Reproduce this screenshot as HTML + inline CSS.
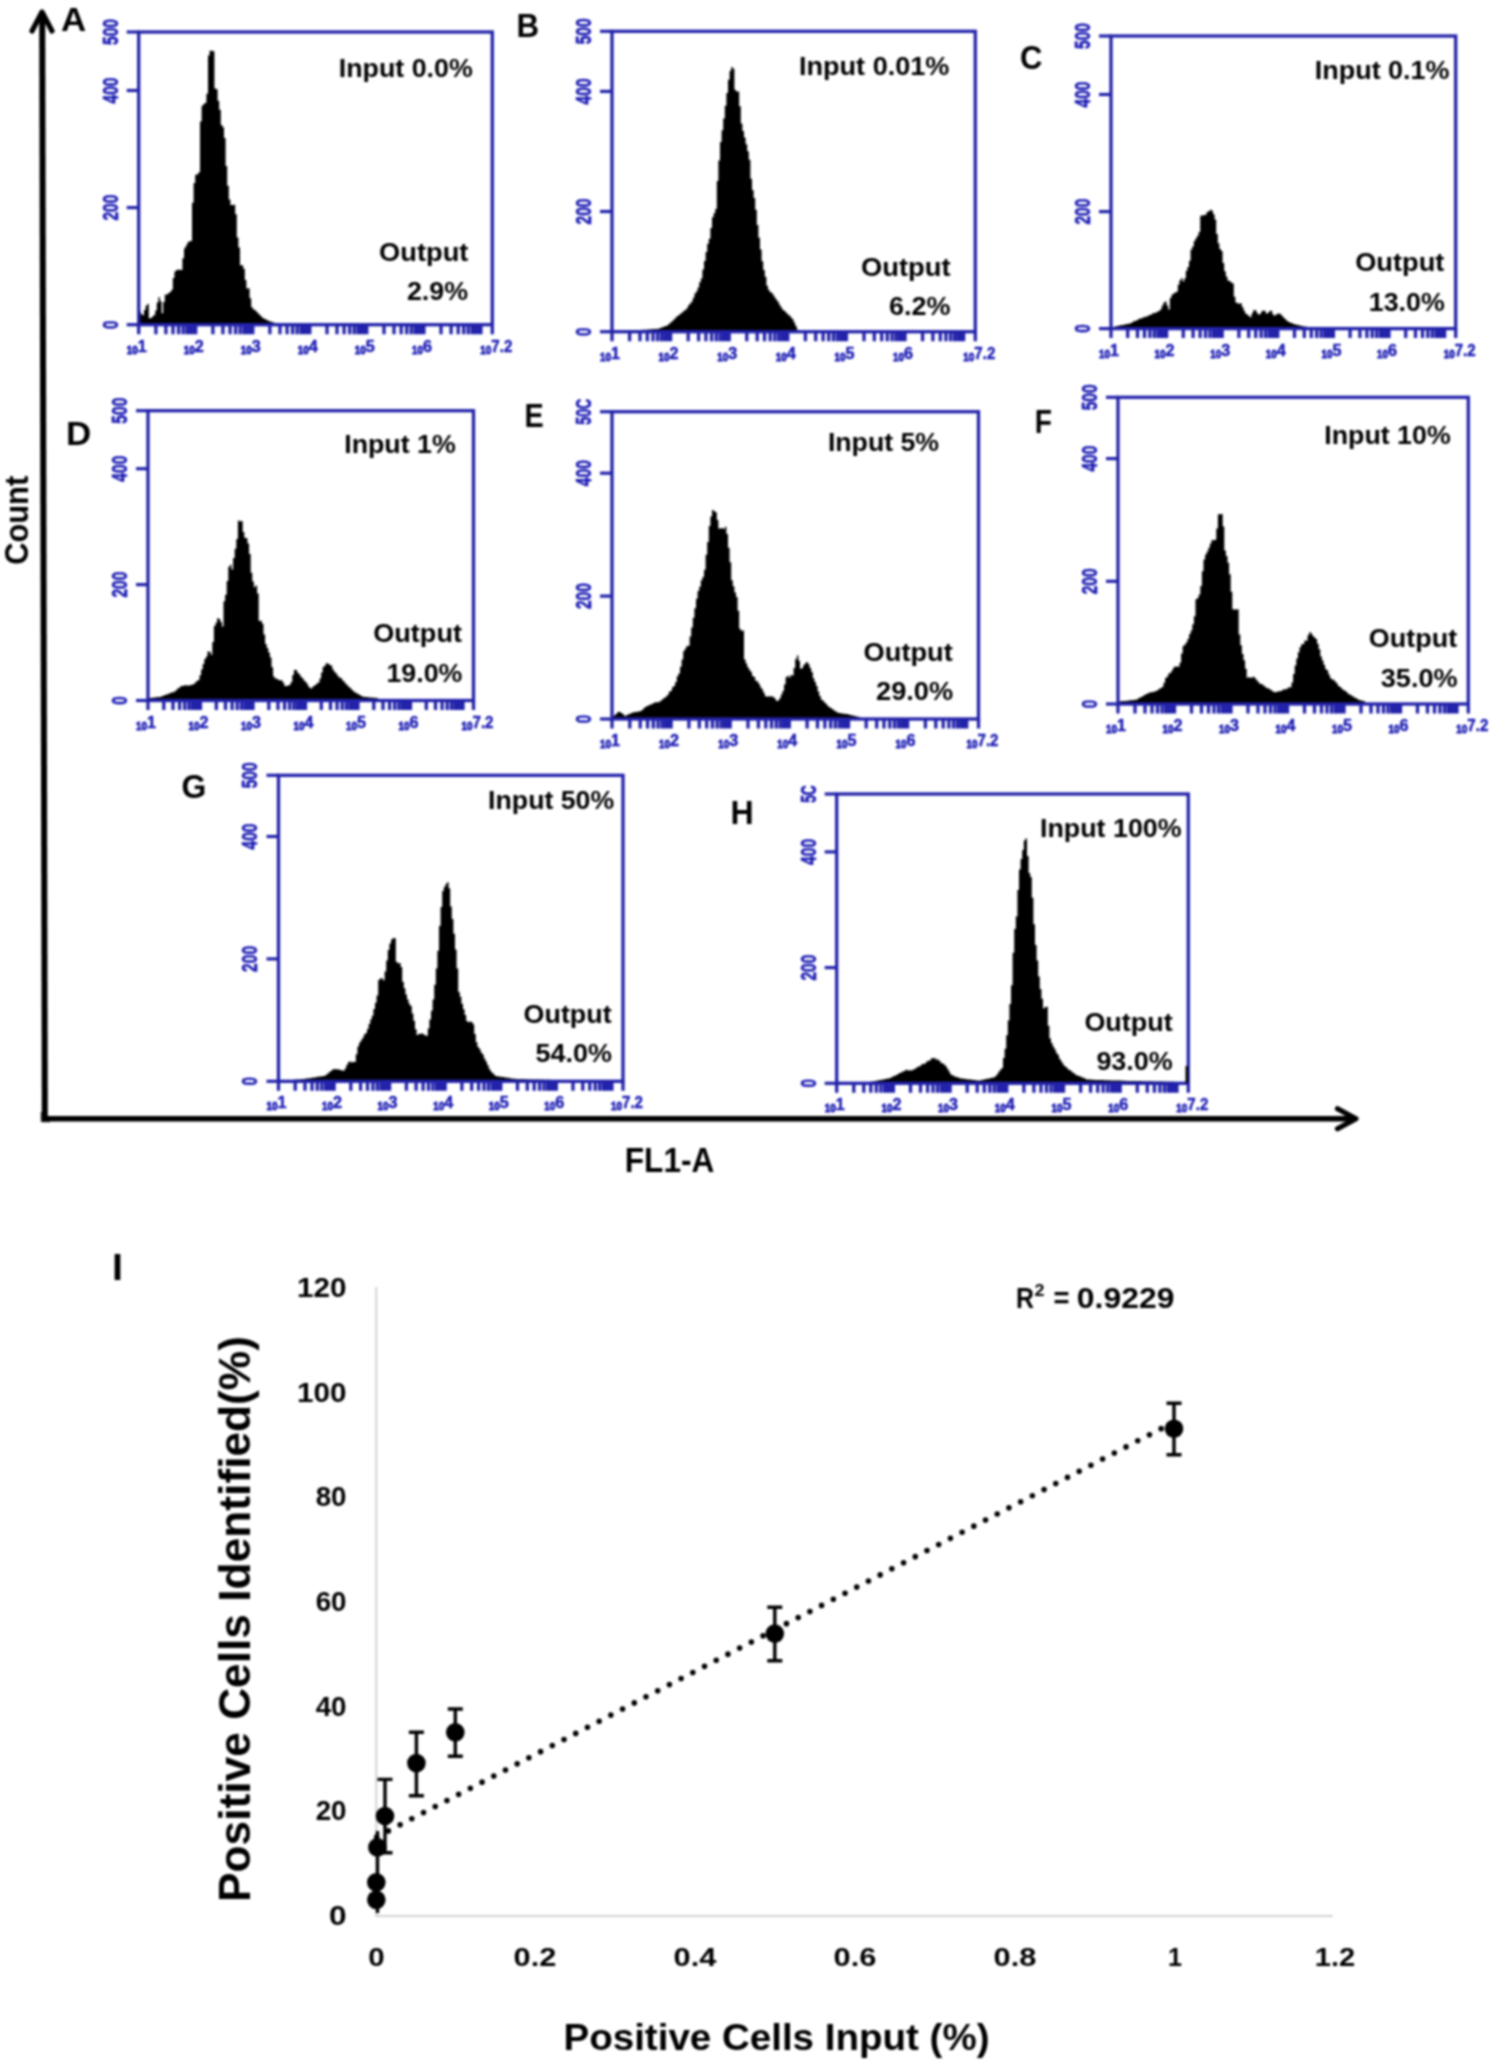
<!DOCTYPE html>
<html><head><meta charset="utf-8"><title>Figure</title>
<style>html,body{margin:0;padding:0;background:#fff;}body{width:1500px;height:2063px;overflow:hidden;font-family:"Liberation Sans",sans-serif;}svg{display:block;}#w{filter:blur(0.8px);width:1500px;height:2063px;}</style>
</head><body>
<div id="w"><svg width="1500" height="2063" viewBox="0 0 1500 2063" font-family="Liberation Sans, sans-serif"><rect width="1500" height="2063" fill="#fff"/>
<path d="M139.2,324.7 L139.2,311.2 L140.8,311.2 L140.8,313.9 L142.4,313.9 L142.4,315.2 L144,315.2 L144,310.1 L145.6,310.1 L145.6,305.8 L147.2,305.8 L147.2,304.1 L148.8,304.1 L148.8,318.3 L150.4,318.3 L150.4,318.1 L152,318.1 L152,316.4 L153.6,316.4 L153.6,315 L155.2,315 L155.2,310.5 L156.8,310.5 L156.8,302.6 L158.4,302.6 L158.4,297.2 L160,297.2 L160,301.3 L161.6,301.3 L161.6,313.2 L163.2,313.2 L163.2,301.9 L164.8,301.9 L164.8,294.5 L166.4,294.5 L166.4,294.4 L168,294.4 L168,293 L169.6,293 L169.6,292 L171.2,292 L171.2,289.7 L172.8,289.7 L172.8,278 L174.4,278 L174.4,271.5 L176,271.5 L176,270.1 L177.6,270.1 L177.6,269.7 L179.2,269.7 L179.2,269.7 L180.8,269.7 L180.8,270.1 L182.4,270.1 L182.4,258.3 L184,258.3 L184,248.2 L185.6,248.2 L185.6,245.4 L187.2,245.4 L187.2,242.6 L188.8,242.6 L188.8,241.3 L190.4,241.3 L190.4,241.1 L192,241.1 L192,202.8 L193.6,202.8 L193.6,183 L195.2,183 L195.2,174.8 L196.8,174.8 L196.8,174.2 L198.4,174.2 L198.4,172.3 L200,172.3 L200,121.6 L201.6,121.6 L201.6,105.7 L203.2,105.7 L203.2,104.1 L204.8,104.1 L204.8,102.8 L206.4,102.8 L206.4,93.7 L208,93.7 L208,55.5 L209.6,55.5 L209.6,50.8 L211.2,50.8 L211.2,50.7 L212.8,50.7 L212.8,51.2 L214.4,51.2 L214.4,88.4 L216,88.4 L216,89.3 L217.6,89.3 L217.6,100.8 L219.2,100.8 L219.2,109.7 L220.8,109.7 L220.8,124.9 L222.4,124.9 L222.4,127.2 L224,127.2 L224,138 L225.6,138 L225.6,165.9 L227.2,165.9 L227.2,185.7 L228.8,185.7 L228.8,199.6 L230.4,199.6 L230.4,204.9 L232,204.9 L232,205.1 L233.6,205.1 L233.6,204.7 L235.2,204.7 L235.2,214.2 L236.8,214.2 L236.8,237.4 L238.4,237.4 L238.4,247.4 L240,247.4 L240,265.2 L241.6,265.2 L241.6,265.2 L243.2,265.2 L243.2,268.7 L244.8,268.7 L244.8,279.9 L246.4,279.9 L246.4,288.5 L248,288.5 L248,288.3 L249.6,288.3 L249.6,298.2 L251.2,298.2 L251.2,307.3 L252.8,307.3 L252.8,309.2 L254.4,309.2 L254.4,310.3 L256,310.3 L256,311.8 L257.6,311.8 L257.6,313.5 L259.2,313.5 L259.2,314.9 L260.8,314.9 L260.8,316.8 L262.4,316.8 L262.4,318.2 L264,318.2 L264,318.8 L265.6,318.8 L265.6,319.7 L267.2,319.7 L267.2,320.4 L268.8,320.4 L268.8,321.2 L270.4,321.2 L270.4,321.7 L272,321.7 L272,322.3 L273.6,322.3 L273.6,322.7 L275.2,322.7 L275.2,323.2 L276.8,323.2 L276.8,323.5 L278.4,323.5 L278.4,323.9 L280,323.9 L280,324.2 L281.6,324.2 L281.6,324.5 L282.6,324.5 L282.6,324.7 Z" fill="#000"/>
<rect x="138.7" y="32" width="353.6" height="292.7" fill="none" stroke="#2222aa" stroke-width="3.3"/>
<line x1="126.7" y1="32" x2="138.7" y2="32" stroke="#2222aa" stroke-width="3.2"/>
<text transform="translate(117.5,32) rotate(-90)" x="0" y="0" font-size="21.5" font-weight="bold" fill="#1c1cb4" stroke="#1c1cb4" stroke-width="0.6" text-anchor="middle" textLength="26" lengthAdjust="spacingAndGlyphs">500</text>
<line x1="126.7" y1="90.5" x2="138.7" y2="90.5" stroke="#2222aa" stroke-width="3.2"/>
<text transform="translate(117.5,90.5) rotate(-90)" x="0" y="0" font-size="21.5" font-weight="bold" fill="#1c1cb4" stroke="#1c1cb4" stroke-width="0.6" text-anchor="middle" textLength="26" lengthAdjust="spacingAndGlyphs">400</text>
<line x1="126.7" y1="207.6" x2="138.7" y2="207.6" stroke="#2222aa" stroke-width="3.2"/>
<text transform="translate(117.5,207.6) rotate(-90)" x="0" y="0" font-size="21.5" font-weight="bold" fill="#1c1cb4" stroke="#1c1cb4" stroke-width="0.6" text-anchor="middle" textLength="26" lengthAdjust="spacingAndGlyphs">200</text>
<line x1="126.7" y1="324.7" x2="138.7" y2="324.7" stroke="#2222aa" stroke-width="3.2"/>
<text transform="translate(117.5,324.7) rotate(-90)" x="0" y="0" font-size="21.5" font-weight="bold" fill="#1c1cb4" stroke="#1c1cb4" stroke-width="0.6" text-anchor="middle" textLength="8.5" lengthAdjust="spacingAndGlyphs">0</text>
<path d="M138.7,324.7V334.2 M155.9,324.7V334.2 M165.9,324.7V334.2 M173,324.7V334.2 M178.6,324.7V334.2 M183.1,324.7V334.2 M186.9,324.7V334.2 M190.2,324.7V334.2 M193.1,324.7V334.2 M195.7,324.7V334.2 M212.9,324.7V334.2 M222.9,324.7V334.2 M230.1,324.7V334.2 M235.6,324.7V334.2 M240.1,324.7V334.2 M243.9,324.7V334.2 M247.2,324.7V334.2 M250.2,324.7V334.2 M252.8,324.7V334.2 M269.9,324.7V334.2 M280,324.7V334.2 M287.1,324.7V334.2 M292.6,324.7V334.2 M297.1,324.7V334.2 M301,324.7V334.2 M304.3,324.7V334.2 M307.2,324.7V334.2 M309.8,324.7V334.2 M327,324.7V334.2 M337,324.7V334.2 M344.1,324.7V334.2 M349.7,324.7V334.2 M354.2,324.7V334.2 M358,324.7V334.2 M361.3,324.7V334.2 M364.2,324.7V334.2 M366.8,324.7V334.2 M384,324.7V334.2 M394,324.7V334.2 M401.2,324.7V334.2 M406.7,324.7V334.2 M411.2,324.7V334.2 M415,324.7V334.2 M418.3,324.7V334.2 M421.3,324.7V334.2 M423.9,324.7V334.2 M441,324.7V334.2 M451.1,324.7V334.2 M458.2,324.7V334.2 M463.7,324.7V334.2 M468.2,324.7V334.2 M472.1,324.7V334.2 M475.4,324.7V334.2 M478.3,324.7V334.2 M480.9,324.7V334.2 M492.3,324.7V334.2" stroke="#2222aa" stroke-width="3.3" fill="none"/>
<text x="126.7" y="353.7" font-size="11" fill="#1c1cb4" font-weight="bold" textLength="11" lengthAdjust="spacingAndGlyphs" stroke="#1c1cb4" stroke-width="0.9">10</text>
<text x="137.7" y="351.7" font-size="17" fill="#1c1cb4" font-weight="bold" textLength="9" lengthAdjust="spacingAndGlyphs" stroke="#1c1cb4" stroke-width="0.5">1</text>
<text x="183.7" y="353.7" font-size="11" fill="#1c1cb4" font-weight="bold" textLength="11" lengthAdjust="spacingAndGlyphs" stroke="#1c1cb4" stroke-width="0.9">10</text>
<text x="194.7" y="351.7" font-size="17" fill="#1c1cb4" font-weight="bold" textLength="9" lengthAdjust="spacingAndGlyphs" stroke="#1c1cb4" stroke-width="0.5">2</text>
<text x="240.8" y="353.7" font-size="11" fill="#1c1cb4" font-weight="bold" textLength="11" lengthAdjust="spacingAndGlyphs" stroke="#1c1cb4" stroke-width="0.9">10</text>
<text x="251.8" y="351.7" font-size="17" fill="#1c1cb4" font-weight="bold" textLength="9" lengthAdjust="spacingAndGlyphs" stroke="#1c1cb4" stroke-width="0.5">3</text>
<text x="297.8" y="353.7" font-size="11" fill="#1c1cb4" font-weight="bold" textLength="11" lengthAdjust="spacingAndGlyphs" stroke="#1c1cb4" stroke-width="0.9">10</text>
<text x="308.8" y="351.7" font-size="17" fill="#1c1cb4" font-weight="bold" textLength="9" lengthAdjust="spacingAndGlyphs" stroke="#1c1cb4" stroke-width="0.5">4</text>
<text x="354.8" y="353.7" font-size="11" fill="#1c1cb4" font-weight="bold" textLength="11" lengthAdjust="spacingAndGlyphs" stroke="#1c1cb4" stroke-width="0.9">10</text>
<text x="365.8" y="351.7" font-size="17" fill="#1c1cb4" font-weight="bold" textLength="9" lengthAdjust="spacingAndGlyphs" stroke="#1c1cb4" stroke-width="0.5">5</text>
<text x="411.9" y="353.7" font-size="11" fill="#1c1cb4" font-weight="bold" textLength="11" lengthAdjust="spacingAndGlyphs" stroke="#1c1cb4" stroke-width="0.9">10</text>
<text x="422.9" y="351.7" font-size="17" fill="#1c1cb4" font-weight="bold" textLength="9" lengthAdjust="spacingAndGlyphs" stroke="#1c1cb4" stroke-width="0.5">6</text>
<text x="480.3" y="353.7" font-size="11" fill="#1c1cb4" font-weight="bold" textLength="11" lengthAdjust="spacingAndGlyphs" stroke="#1c1cb4" stroke-width="0.9">10</text>
<text x="491.3" y="351.7" font-size="17" fill="#1c1cb4" font-weight="bold" textLength="21" lengthAdjust="spacingAndGlyphs" stroke="#1c1cb4" stroke-width="0.5">7.2</text>
<path d="M612.8,331.7 L612.8,330.9 L614.4,330.9 L614.4,330.8 L616,330.8 L616,330.8 L617.6,330.8 L617.6,330.7 L619.2,330.7 L619.2,330.7 L620.8,330.7 L620.8,330.6 L622.4,330.6 L622.4,330.6 L624,330.6 L624,330.6 L625.6,330.6 L625.6,330.5 L627.2,330.5 L627.2,330.4 L628.8,330.4 L628.8,330.4 L630.4,330.4 L630.4,330.3 L632,330.3 L632,330.3 L633.6,330.3 L633.6,330.3 L635.2,330.3 L635.2,330.2 L636.8,330.2 L636.8,330.2 L638.4,330.2 L638.4,330 L640,330 L640,330 L641.6,330 L641.6,329.8 L643.2,329.8 L643.2,329.8 L644.8,329.8 L644.8,329.7 L646.4,329.7 L646.4,329.6 L648,329.6 L648,329.4 L649.6,329.4 L649.6,329.3 L651.2,329.3 L651.2,329.2 L652.8,329.2 L652.8,329 L654.4,329 L654.4,329.1 L656,329.1 L656,328.9 L657.6,328.9 L657.6,328.8 L659.2,328.8 L659.2,328.2 L660.8,328.2 L660.8,327.6 L662.4,327.6 L662.4,327 L664,327 L664,326.3 L665.6,326.3 L665.6,325.9 L667.2,325.9 L667.2,325.1 L668.8,325.1 L668.8,323.6 L670.4,323.6 L670.4,322.2 L672,322.2 L672,320.7 L673.6,320.7 L673.6,319.3 L675.2,319.3 L675.2,317.6 L676.8,317.6 L676.8,316.1 L678.4,316.1 L678.4,314.9 L680,314.9 L680,313.5 L681.6,313.5 L681.6,312.4 L683.2,312.4 L683.2,310.7 L684.8,310.7 L684.8,310.1 L686.4,310.1 L686.4,307.9 L688,307.9 L688,305.3 L689.6,305.3 L689.6,303.5 L691.2,303.5 L691.2,301.5 L692.8,301.5 L692.8,297.7 L694.4,297.7 L694.4,293.4 L696,293.4 L696,291.2 L697.6,291.2 L697.6,287.6 L699.2,287.6 L699.2,282.3 L700.8,282.3 L700.8,278.4 L702.4,278.4 L702.4,269.4 L704,269.4 L704,261 L705.6,261 L705.6,252 L707.2,252 L707.2,243.8 L708.8,243.8 L708.8,238.8 L710.4,238.8 L710.4,227.9 L712,227.9 L712,217.3 L713.6,217.3 L713.6,213.3 L715.2,213.3 L715.2,209.1 L716.8,209.1 L716.8,181 L718.4,181 L718.4,160.5 L720,160.5 L720,141.9 L721.6,141.9 L721.6,130.3 L723.2,130.3 L723.2,118.5 L724.8,118.5 L724.8,105.8 L726.4,105.8 L726.4,93.1 L728,93.1 L728,79.8 L729.6,79.8 L729.6,70.8 L731.2,70.8 L731.2,66.9 L732.8,66.9 L732.8,68.7 L734.4,68.7 L734.4,89.8 L736,89.8 L736,91.5 L737.6,91.5 L737.6,91.5 L739.2,91.5 L739.2,106.2 L740.8,106.2 L740.8,123.5 L742.4,123.5 L742.4,130.9 L744,130.9 L744,137.5 L745.6,137.5 L745.6,144.3 L747.2,144.3 L747.2,151.3 L748.8,151.3 L748.8,159.7 L750.4,159.7 L750.4,178.7 L752,178.7 L752,190 L753.6,190 L753.6,197.9 L755.2,197.9 L755.2,209.8 L756.8,209.8 L756.8,225 L758.4,225 L758.4,237.7 L760,237.7 L760,249.4 L761.6,249.4 L761.6,261.3 L763.2,261.3 L763.2,269.9 L764.8,269.9 L764.8,276.7 L766.4,276.7 L766.4,285.8 L768,285.8 L768,289.8 L769.6,289.8 L769.6,292.1 L771.2,292.1 L771.2,293.1 L772.8,293.1 L772.8,295.2 L774.4,295.2 L774.4,297.7 L776,297.7 L776,300 L777.6,300 L777.6,302.2 L779.2,302.2 L779.2,305.2 L780.8,305.2 L780.8,307.8 L782.4,307.8 L782.4,309.9 L784,309.9 L784,311 L785.6,311 L785.6,312.8 L787.2,312.8 L787.2,314.5 L788.8,314.5 L788.8,315.4 L790.4,315.4 L790.4,317.5 L792,317.5 L792,319.3 L793.6,319.3 L793.6,322.6 L795.2,322.6 L795.2,325.9 L796.8,325.9 L796.8,329.2 L797.6,329.2 L797.6,331.7 Z" fill="#000"/>
<rect x="612" y="31.3" width="363.3" height="300.4" fill="none" stroke="#2222aa" stroke-width="3.3"/>
<line x1="600" y1="31.3" x2="612" y2="31.3" stroke="#2222aa" stroke-width="3.2"/>
<text transform="translate(590.8,31.3) rotate(-90)" x="0" y="0" font-size="21.5" font-weight="bold" fill="#1c1cb4" stroke="#1c1cb4" stroke-width="0.6" text-anchor="middle" textLength="26" lengthAdjust="spacingAndGlyphs">500</text>
<line x1="600" y1="91.4" x2="612" y2="91.4" stroke="#2222aa" stroke-width="3.2"/>
<text transform="translate(590.8,91.4) rotate(-90)" x="0" y="0" font-size="21.5" font-weight="bold" fill="#1c1cb4" stroke="#1c1cb4" stroke-width="0.6" text-anchor="middle" textLength="26" lengthAdjust="spacingAndGlyphs">400</text>
<line x1="600" y1="211.5" x2="612" y2="211.5" stroke="#2222aa" stroke-width="3.2"/>
<text transform="translate(590.8,211.5) rotate(-90)" x="0" y="0" font-size="21.5" font-weight="bold" fill="#1c1cb4" stroke="#1c1cb4" stroke-width="0.6" text-anchor="middle" textLength="26" lengthAdjust="spacingAndGlyphs">200</text>
<line x1="600" y1="331.7" x2="612" y2="331.7" stroke="#2222aa" stroke-width="3.2"/>
<text transform="translate(590.8,331.7) rotate(-90)" x="0" y="0" font-size="21.5" font-weight="bold" fill="#1c1cb4" stroke="#1c1cb4" stroke-width="0.6" text-anchor="middle" textLength="8.5" lengthAdjust="spacingAndGlyphs">0</text>
<path d="M612,331.7V341.2 M629.6,331.7V341.2 M640,331.7V341.2 M647.3,331.7V341.2 M653,331.7V341.2 M657.6,331.7V341.2 M661.5,331.7V341.2 M664.9,331.7V341.2 M667.9,331.7V341.2 M670.6,331.7V341.2 M688.2,331.7V341.2 M698.6,331.7V341.2 M705.9,331.7V341.2 M711.6,331.7V341.2 M716.2,331.7V341.2 M720.1,331.7V341.2 M723.5,331.7V341.2 M726.5,331.7V341.2 M729.2,331.7V341.2 M746.8,331.7V341.2 M757.2,331.7V341.2 M764.5,331.7V341.2 M770.2,331.7V341.2 M774.8,331.7V341.2 M778.7,331.7V341.2 M782.1,331.7V341.2 M785.1,331.7V341.2 M787.8,331.7V341.2 M805.4,331.7V341.2 M815.7,331.7V341.2 M823.1,331.7V341.2 M828.7,331.7V341.2 M833.4,331.7V341.2 M837.3,331.7V341.2 M840.7,331.7V341.2 M843.7,331.7V341.2 M846.4,331.7V341.2 M864,331.7V341.2 M874.3,331.7V341.2 M881.7,331.7V341.2 M887.3,331.7V341.2 M892,331.7V341.2 M895.9,331.7V341.2 M899.3,331.7V341.2 M902.3,331.7V341.2 M905,331.7V341.2 M922.6,331.7V341.2 M932.9,331.7V341.2 M940.3,331.7V341.2 M945.9,331.7V341.2 M950.6,331.7V341.2 M954.5,331.7V341.2 M957.9,331.7V341.2 M960.9,331.7V341.2 M963.6,331.7V341.2 M975.3,331.7V341.2" stroke="#2222aa" stroke-width="3.3" fill="none"/>
<text x="600" y="360.7" font-size="11" fill="#1c1cb4" font-weight="bold" textLength="11" lengthAdjust="spacingAndGlyphs" stroke="#1c1cb4" stroke-width="0.9">10</text>
<text x="611" y="358.7" font-size="17" fill="#1c1cb4" font-weight="bold" textLength="9" lengthAdjust="spacingAndGlyphs" stroke="#1c1cb4" stroke-width="0.5">1</text>
<text x="658.6" y="360.7" font-size="11" fill="#1c1cb4" font-weight="bold" textLength="11" lengthAdjust="spacingAndGlyphs" stroke="#1c1cb4" stroke-width="0.9">10</text>
<text x="669.6" y="358.7" font-size="17" fill="#1c1cb4" font-weight="bold" textLength="9" lengthAdjust="spacingAndGlyphs" stroke="#1c1cb4" stroke-width="0.5">2</text>
<text x="717.2" y="360.7" font-size="11" fill="#1c1cb4" font-weight="bold" textLength="11" lengthAdjust="spacingAndGlyphs" stroke="#1c1cb4" stroke-width="0.9">10</text>
<text x="728.2" y="358.7" font-size="17" fill="#1c1cb4" font-weight="bold" textLength="9" lengthAdjust="spacingAndGlyphs" stroke="#1c1cb4" stroke-width="0.5">3</text>
<text x="775.8" y="360.7" font-size="11" fill="#1c1cb4" font-weight="bold" textLength="11" lengthAdjust="spacingAndGlyphs" stroke="#1c1cb4" stroke-width="0.9">10</text>
<text x="786.8" y="358.7" font-size="17" fill="#1c1cb4" font-weight="bold" textLength="9" lengthAdjust="spacingAndGlyphs" stroke="#1c1cb4" stroke-width="0.5">4</text>
<text x="834.4" y="360.7" font-size="11" fill="#1c1cb4" font-weight="bold" textLength="11" lengthAdjust="spacingAndGlyphs" stroke="#1c1cb4" stroke-width="0.9">10</text>
<text x="845.4" y="358.7" font-size="17" fill="#1c1cb4" font-weight="bold" textLength="9" lengthAdjust="spacingAndGlyphs" stroke="#1c1cb4" stroke-width="0.5">5</text>
<text x="893" y="360.7" font-size="11" fill="#1c1cb4" font-weight="bold" textLength="11" lengthAdjust="spacingAndGlyphs" stroke="#1c1cb4" stroke-width="0.9">10</text>
<text x="904" y="358.7" font-size="17" fill="#1c1cb4" font-weight="bold" textLength="9" lengthAdjust="spacingAndGlyphs" stroke="#1c1cb4" stroke-width="0.5">6</text>
<text x="963.3" y="360.7" font-size="11" fill="#1c1cb4" font-weight="bold" textLength="11" lengthAdjust="spacingAndGlyphs" stroke="#1c1cb4" stroke-width="0.9">10</text>
<text x="974.3" y="358.7" font-size="17" fill="#1c1cb4" font-weight="bold" textLength="21" lengthAdjust="spacingAndGlyphs" stroke="#1c1cb4" stroke-width="0.5">7.2</text>
<path d="M1110.6,328.6 L1110.6,327.5 L1112.2,327.5 L1112.2,327.1 L1113.8,327.1 L1113.8,326.7 L1115.4,326.7 L1115.4,326.3 L1117,326.3 L1117,326 L1118.6,326 L1118.6,325.6 L1120.2,325.6 L1120.2,325.3 L1121.8,325.3 L1121.8,325.1 L1123.4,325.1 L1123.4,324.7 L1125,324.7 L1125,324.3 L1126.6,324.3 L1126.6,324 L1128.2,324 L1128.2,323.7 L1129.8,323.7 L1129.8,323.2 L1131.4,323.2 L1131.4,322.4 L1133,322.4 L1133,321.3 L1134.6,321.3 L1134.6,320.9 L1136.2,320.9 L1136.2,320.2 L1137.8,320.2 L1137.8,319.3 L1139.4,319.3 L1139.4,318.6 L1141,318.6 L1141,318.2 L1142.6,318.2 L1142.6,317.4 L1144.2,317.4 L1144.2,316.8 L1145.8,316.8 L1145.8,316.8 L1147.4,316.8 L1147.4,315.8 L1149,315.8 L1149,314.9 L1150.6,314.9 L1150.6,314.5 L1152.2,314.5 L1152.2,313.2 L1153.8,313.2 L1153.8,313.1 L1155.4,313.1 L1155.4,312.6 L1157,312.6 L1157,311.5 L1158.6,311.5 L1158.6,311.1 L1160.2,311.1 L1160.2,309.1 L1161.8,309.1 L1161.8,305.5 L1163.4,305.5 L1163.4,302.6 L1165,302.6 L1165,301.6 L1166.6,301.6 L1166.6,305.6 L1168.2,305.6 L1168.2,309.6 L1169.8,309.6 L1169.8,298 L1171.4,298 L1171.4,294.8 L1173,294.8 L1173,293.6 L1174.6,293.6 L1174.6,292.4 L1176.2,292.4 L1176.2,291.7 L1177.8,291.7 L1177.8,284.8 L1179.4,284.8 L1179.4,280.3 L1181,280.3 L1181,278.2 L1182.6,278.2 L1182.6,281.5 L1184.2,281.5 L1184.2,278.5 L1185.8,278.5 L1185.8,270.8 L1187.4,270.8 L1187.4,266.9 L1189,266.9 L1189,260.7 L1190.6,260.7 L1190.6,249.6 L1192.2,249.6 L1192.2,246.4 L1193.8,246.4 L1193.8,241.1 L1195.4,241.1 L1195.4,238.3 L1197,238.3 L1197,235.7 L1198.6,235.7 L1198.6,232.1 L1200.2,232.1 L1200.2,215.8 L1201.8,215.8 L1201.8,215.5 L1203.4,215.5 L1203.4,214.9 L1205,214.9 L1205,214.7 L1206.6,214.7 L1206.6,211.9 L1208.2,211.9 L1208.2,211.3 L1209.8,211.3 L1209.8,209.7 L1211.4,209.7 L1211.4,210.7 L1213,210.7 L1213,214.2 L1214.6,214.2 L1214.6,219.6 L1216.2,219.6 L1216.2,234 L1217.8,234 L1217.8,243.3 L1219.4,243.3 L1219.4,249 L1221,249 L1221,251.1 L1222.6,251.1 L1222.6,263.1 L1224.2,263.1 L1224.2,271.3 L1225.8,271.3 L1225.8,276.4 L1227.4,276.4 L1227.4,280.5 L1229,280.5 L1229,281.1 L1230.6,281.1 L1230.6,282.5 L1232.2,282.5 L1232.2,283.6 L1233.8,283.6 L1233.8,296.8 L1235.4,296.8 L1235.4,302.5 L1237,302.5 L1237,303.2 L1238.6,303.2 L1238.6,303.7 L1240.2,303.7 L1240.2,303.2 L1241.8,303.2 L1241.8,306.9 L1243.4,306.9 L1243.4,310.5 L1245,310.5 L1245,313.5 L1246.6,313.5 L1246.6,314.5 L1248.2,314.5 L1248.2,316.1 L1249.8,316.1 L1249.8,317.2 L1251.4,317.2 L1251.4,313.6 L1253,313.6 L1253,310.5 L1254.6,310.5 L1254.6,309.9 L1256.2,309.9 L1256.2,312.4 L1257.8,312.4 L1257.8,314.6 L1259.4,314.6 L1259.4,314.1 L1261,314.1 L1261,311.5 L1262.6,311.5 L1262.6,310.6 L1264.2,310.6 L1264.2,311.1 L1265.8,311.1 L1265.8,313.5 L1267.4,313.5 L1267.4,312.9 L1269,312.9 L1269,310.9 L1270.6,310.9 L1270.6,310.8 L1272.2,310.8 L1272.2,314.3 L1273.8,314.3 L1273.8,315.8 L1275.4,315.8 L1275.4,314.5 L1277,314.5 L1277,313.7 L1278.6,313.7 L1278.6,313.5 L1280.2,313.5 L1280.2,314.5 L1281.8,314.5 L1281.8,316.3 L1283.4,316.3 L1283.4,318 L1285,318 L1285,319.5 L1286.6,319.5 L1286.6,321.1 L1288.2,321.1 L1288.2,322 L1289.8,322 L1289.8,322.8 L1291.4,322.8 L1291.4,323.2 L1293,323.2 L1293,324 L1294.6,324 L1294.6,324.5 L1296.2,324.5 L1296.2,324.8 L1297.8,324.8 L1297.8,325.2 L1299.4,325.2 L1299.4,325.6 L1301,325.6 L1301,325.9 L1302.6,325.9 L1302.6,326.2 L1304.2,326.2 L1304.2,326.6 L1305.8,326.6 L1305.8,326.8 L1307.4,326.8 L1307.4,327 L1309,327 L1309,327.1 L1310.6,327.1 L1310.6,327.3 L1312.2,327.3 L1312.2,327.5 L1313.8,327.5 L1313.8,327.8 L1315,327.8 L1315,328.6 Z" fill="#000"/>
<rect x="1111" y="36" width="344.7" height="292.6" fill="none" stroke="#2222aa" stroke-width="3.3"/>
<line x1="1099" y1="36" x2="1111" y2="36" stroke="#2222aa" stroke-width="3.2"/>
<text transform="translate(1089.8,36) rotate(-90)" x="0" y="0" font-size="21.5" font-weight="bold" fill="#1c1cb4" stroke="#1c1cb4" stroke-width="0.6" text-anchor="middle" textLength="26" lengthAdjust="spacingAndGlyphs">500</text>
<line x1="1099" y1="94.5" x2="1111" y2="94.5" stroke="#2222aa" stroke-width="3.2"/>
<text transform="translate(1089.8,94.5) rotate(-90)" x="0" y="0" font-size="21.5" font-weight="bold" fill="#1c1cb4" stroke="#1c1cb4" stroke-width="0.6" text-anchor="middle" textLength="26" lengthAdjust="spacingAndGlyphs">400</text>
<line x1="1099" y1="211.6" x2="1111" y2="211.6" stroke="#2222aa" stroke-width="3.2"/>
<text transform="translate(1089.8,211.6) rotate(-90)" x="0" y="0" font-size="21.5" font-weight="bold" fill="#1c1cb4" stroke="#1c1cb4" stroke-width="0.6" text-anchor="middle" textLength="26" lengthAdjust="spacingAndGlyphs">200</text>
<line x1="1099" y1="328.6" x2="1111" y2="328.6" stroke="#2222aa" stroke-width="3.2"/>
<text transform="translate(1089.8,328.6) rotate(-90)" x="0" y="0" font-size="21.5" font-weight="bold" fill="#1c1cb4" stroke="#1c1cb4" stroke-width="0.6" text-anchor="middle" textLength="8.5" lengthAdjust="spacingAndGlyphs">0</text>
<path d="M1111,328.6V338.1 M1127.7,328.6V338.1 M1137.5,328.6V338.1 M1144.5,328.6V338.1 M1149.9,328.6V338.1 M1154.3,328.6V338.1 M1158,328.6V338.1 M1161.2,328.6V338.1 M1164.1,328.6V338.1 M1166.6,328.6V338.1 M1183.3,328.6V338.1 M1193.1,328.6V338.1 M1200.1,328.6V338.1 M1205.5,328.6V338.1 M1209.9,328.6V338.1 M1213.6,328.6V338.1 M1216.8,328.6V338.1 M1219.6,328.6V338.1 M1222.2,328.6V338.1 M1238.9,328.6V338.1 M1248.7,328.6V338.1 M1255.7,328.6V338.1 M1261.1,328.6V338.1 M1265.5,328.6V338.1 M1269.2,328.6V338.1 M1272.4,328.6V338.1 M1275.2,328.6V338.1 M1277.8,328.6V338.1 M1294.5,328.6V338.1 M1304.3,328.6V338.1 M1311.3,328.6V338.1 M1316.7,328.6V338.1 M1321.1,328.6V338.1 M1324.8,328.6V338.1 M1328,328.6V338.1 M1330.8,328.6V338.1 M1333.4,328.6V338.1 M1350.1,328.6V338.1 M1359.9,328.6V338.1 M1366.9,328.6V338.1 M1372.2,328.6V338.1 M1376.6,328.6V338.1 M1380.4,328.6V338.1 M1383.6,328.6V338.1 M1386.4,328.6V338.1 M1389,328.6V338.1 M1405.7,328.6V338.1 M1415.5,328.6V338.1 M1422.5,328.6V338.1 M1427.8,328.6V338.1 M1432.2,328.6V338.1 M1436,328.6V338.1 M1439.2,328.6V338.1 M1442,328.6V338.1 M1444.6,328.6V338.1 M1455.7,328.6V338.1" stroke="#2222aa" stroke-width="3.3" fill="none"/>
<text x="1099" y="357.6" font-size="11" fill="#1c1cb4" font-weight="bold" textLength="11" lengthAdjust="spacingAndGlyphs" stroke="#1c1cb4" stroke-width="0.9">10</text>
<text x="1110" y="355.6" font-size="17" fill="#1c1cb4" font-weight="bold" textLength="9" lengthAdjust="spacingAndGlyphs" stroke="#1c1cb4" stroke-width="0.5">1</text>
<text x="1154.6" y="357.6" font-size="11" fill="#1c1cb4" font-weight="bold" textLength="11" lengthAdjust="spacingAndGlyphs" stroke="#1c1cb4" stroke-width="0.9">10</text>
<text x="1165.6" y="355.6" font-size="17" fill="#1c1cb4" font-weight="bold" textLength="9" lengthAdjust="spacingAndGlyphs" stroke="#1c1cb4" stroke-width="0.5">2</text>
<text x="1210.2" y="357.6" font-size="11" fill="#1c1cb4" font-weight="bold" textLength="11" lengthAdjust="spacingAndGlyphs" stroke="#1c1cb4" stroke-width="0.9">10</text>
<text x="1221.2" y="355.6" font-size="17" fill="#1c1cb4" font-weight="bold" textLength="9" lengthAdjust="spacingAndGlyphs" stroke="#1c1cb4" stroke-width="0.5">3</text>
<text x="1265.8" y="357.6" font-size="11" fill="#1c1cb4" font-weight="bold" textLength="11" lengthAdjust="spacingAndGlyphs" stroke="#1c1cb4" stroke-width="0.9">10</text>
<text x="1276.8" y="355.6" font-size="17" fill="#1c1cb4" font-weight="bold" textLength="9" lengthAdjust="spacingAndGlyphs" stroke="#1c1cb4" stroke-width="0.5">4</text>
<text x="1321.4" y="357.6" font-size="11" fill="#1c1cb4" font-weight="bold" textLength="11" lengthAdjust="spacingAndGlyphs" stroke="#1c1cb4" stroke-width="0.9">10</text>
<text x="1332.4" y="355.6" font-size="17" fill="#1c1cb4" font-weight="bold" textLength="9" lengthAdjust="spacingAndGlyphs" stroke="#1c1cb4" stroke-width="0.5">5</text>
<text x="1377" y="357.6" font-size="11" fill="#1c1cb4" font-weight="bold" textLength="11" lengthAdjust="spacingAndGlyphs" stroke="#1c1cb4" stroke-width="0.9">10</text>
<text x="1388" y="355.6" font-size="17" fill="#1c1cb4" font-weight="bold" textLength="9" lengthAdjust="spacingAndGlyphs" stroke="#1c1cb4" stroke-width="0.5">6</text>
<text x="1443.7" y="357.6" font-size="11" fill="#1c1cb4" font-weight="bold" textLength="11" lengthAdjust="spacingAndGlyphs" stroke="#1c1cb4" stroke-width="0.9">10</text>
<text x="1454.7" y="355.6" font-size="17" fill="#1c1cb4" font-weight="bold" textLength="21" lengthAdjust="spacingAndGlyphs" stroke="#1c1cb4" stroke-width="0.5">7.2</text>
<path d="M148.3,700.5 L148.3,698.1 L149.9,698.1 L149.9,697.9 L151.5,697.9 L151.5,697.7 L153.1,697.7 L153.1,697.6 L154.7,697.6 L154.7,697.4 L156.3,697.4 L156.3,697.1 L157.9,697.1 L157.9,696.9 L159.5,696.9 L159.5,696.9 L161.1,696.9 L161.1,696.3 L162.7,696.3 L162.7,695.8 L164.3,695.8 L164.3,695 L165.9,695 L165.9,694.4 L167.5,694.4 L167.5,694 L169.1,694 L169.1,693.3 L170.7,693.3 L170.7,692.5 L172.3,692.5 L172.3,692.3 L173.9,692.3 L173.9,691.4 L175.5,691.4 L175.5,690.2 L177.1,690.2 L177.1,688.5 L178.7,688.5 L178.7,687.8 L180.3,687.8 L180.3,685.9 L181.9,685.9 L181.9,686 L183.5,686 L183.5,685.6 L185.1,685.6 L185.1,685.3 L186.7,685.3 L186.7,685.4 L188.3,685.4 L188.3,685.6 L189.9,685.6 L189.9,684.9 L191.5,684.9 L191.5,684.7 L193.1,684.7 L193.1,684 L194.7,684 L194.7,682.5 L196.3,682.5 L196.3,681.1 L197.9,681.1 L197.9,680 L199.5,680 L199.5,675.3 L201.1,675.3 L201.1,669.6 L202.7,669.6 L202.7,663.9 L204.3,663.9 L204.3,659.1 L205.9,659.1 L205.9,656.4 L207.5,656.4 L207.5,651.4 L209.1,651.4 L209.1,651.7 L210.7,651.7 L210.7,654.7 L212.3,654.7 L212.3,641.9 L213.9,641.9 L213.9,626 L215.5,626 L215.5,622.7 L217.1,622.7 L217.1,618.3 L218.7,618.3 L218.7,618.9 L220.3,618.9 L220.3,622 L221.9,622 L221.9,626.4 L223.5,626.4 L223.5,601.2 L225.1,601.2 L225.1,594.8 L226.7,594.8 L226.7,581.1 L228.3,581.1 L228.3,566.8 L229.9,566.8 L229.9,564.8 L231.5,564.8 L231.5,569.5 L233.1,569.5 L233.1,557.9 L234.7,557.9 L234.7,548.7 L236.3,548.7 L236.3,539.1 L237.9,539.1 L237.9,520.5 L239.5,520.5 L239.5,521.4 L241.1,521.4 L241.1,520.9 L242.7,520.9 L242.7,531.9 L244.3,531.9 L244.3,537.7 L245.9,537.7 L245.9,538.2 L247.5,538.2 L247.5,543.4 L249.1,543.4 L249.1,554 L250.7,554 L250.7,572.7 L252.3,572.7 L252.3,581.5 L253.9,581.5 L253.9,587.2 L255.5,587.2 L255.5,585.6 L257.1,585.6 L257.1,593.6 L258.7,593.6 L258.7,620.9 L260.3,620.9 L260.3,620.7 L261.9,620.7 L261.9,623.8 L263.5,623.8 L263.5,634.4 L265.1,634.4 L265.1,644 L266.7,644 L266.7,647.9 L268.3,647.9 L268.3,652.6 L269.9,652.6 L269.9,657.5 L271.5,657.5 L271.5,667.3 L273.1,667.3 L273.1,676.6 L274.7,676.6 L274.7,678.5 L276.3,678.5 L276.3,678.7 L277.9,678.7 L277.9,679.9 L279.5,679.9 L279.5,680.3 L281.1,680.3 L281.1,680.5 L282.7,680.5 L282.7,682.8 L284.3,682.8 L284.3,686 L285.9,686 L285.9,685.9 L287.5,685.9 L287.5,685.5 L289.1,685.5 L289.1,684.8 L290.7,684.8 L290.7,682.1 L292.3,682.1 L292.3,675 L293.9,675 L293.9,670 L295.5,670 L295.5,670.1 L297.1,670.1 L297.1,672.8 L298.7,672.8 L298.7,674.2 L300.3,674.2 L300.3,676.7 L301.9,676.7 L301.9,678.3 L303.5,678.3 L303.5,680.6 L305.1,680.6 L305.1,682 L306.7,682 L306.7,684.3 L308.3,684.3 L308.3,687.1 L309.9,687.1 L309.9,688.6 L311.5,688.6 L311.5,687.5 L313.1,687.5 L313.1,686.1 L314.7,686.1 L314.7,685 L316.3,685 L316.3,683.6 L317.9,683.6 L317.9,682.4 L319.5,682.4 L319.5,678.5 L321.1,678.5 L321.1,672.5 L322.7,672.5 L322.7,667 L324.3,667 L324.3,665.6 L325.9,665.6 L325.9,662.9 L327.5,662.9 L327.5,663.8 L329.1,663.8 L329.1,664.7 L330.7,664.7 L330.7,665.7 L332.3,665.7 L332.3,669.5 L333.9,669.5 L333.9,671.8 L335.5,671.8 L335.5,673.5 L337.1,673.5 L337.1,675.8 L338.7,675.8 L338.7,677.4 L340.3,677.4 L340.3,678.1 L341.9,678.1 L341.9,680.2 L343.5,680.2 L343.5,681.8 L345.1,681.8 L345.1,683.7 L346.7,683.7 L346.7,685.3 L348.3,685.3 L348.3,686.9 L349.9,686.9 L349.9,688.3 L351.5,688.3 L351.5,690.1 L353.1,690.1 L353.1,691.6 L354.7,691.6 L354.7,692.6 L356.3,692.6 L356.3,693.4 L357.9,693.4 L357.9,694.3 L359.5,694.3 L359.5,695.3 L361.1,695.3 L361.1,696.3 L362.7,696.3 L362.7,696.7 L364.3,696.7 L364.3,697 L365.9,697 L365.9,697.1 L367.5,697.1 L367.5,697.3 L369.1,697.3 L369.1,697.4 L370.7,697.4 L370.7,697.6 L372.3,697.6 L372.3,697.7 L373.9,697.7 L373.9,697.8 L375.5,697.8 L375.5,698.1 L377.1,698.1 L377.1,698.2 L378.3,698.2 L378.3,700.5 Z" fill="#000"/>
<rect x="148" y="410.7" width="325.5" height="289.8" fill="none" stroke="#2222aa" stroke-width="3.3"/>
<line x1="136" y1="410.7" x2="148" y2="410.7" stroke="#2222aa" stroke-width="3.2"/>
<text transform="translate(126.8,410.7) rotate(-90)" x="0" y="0" font-size="21.5" font-weight="bold" fill="#1c1cb4" stroke="#1c1cb4" stroke-width="0.6" text-anchor="middle" textLength="26" lengthAdjust="spacingAndGlyphs">500</text>
<line x1="136" y1="468.7" x2="148" y2="468.7" stroke="#2222aa" stroke-width="3.2"/>
<text transform="translate(126.8,468.7) rotate(-90)" x="0" y="0" font-size="21.5" font-weight="bold" fill="#1c1cb4" stroke="#1c1cb4" stroke-width="0.6" text-anchor="middle" textLength="26" lengthAdjust="spacingAndGlyphs">400</text>
<line x1="136" y1="584.6" x2="148" y2="584.6" stroke="#2222aa" stroke-width="3.2"/>
<text transform="translate(126.8,584.6) rotate(-90)" x="0" y="0" font-size="21.5" font-weight="bold" fill="#1c1cb4" stroke="#1c1cb4" stroke-width="0.6" text-anchor="middle" textLength="26" lengthAdjust="spacingAndGlyphs">200</text>
<line x1="136" y1="700.5" x2="148" y2="700.5" stroke="#2222aa" stroke-width="3.2"/>
<text transform="translate(126.8,700.5) rotate(-90)" x="0" y="0" font-size="21.5" font-weight="bold" fill="#1c1cb4" stroke="#1c1cb4" stroke-width="0.6" text-anchor="middle" textLength="8.5" lengthAdjust="spacingAndGlyphs">0</text>
<path d="M148,700.5V710 M163.8,700.5V710 M173,700.5V710 M179.6,700.5V710 M184.7,700.5V710 M188.9,700.5V710 M192.4,700.5V710 M195.4,700.5V710 M198.1,700.5V710 M200.5,700.5V710 M216.3,700.5V710 M225.5,700.5V710 M232.1,700.5V710 M237.2,700.5V710 M241.4,700.5V710 M244.9,700.5V710 M247.9,700.5V710 M250.6,700.5V710 M253,700.5V710 M268.8,700.5V710 M278,700.5V710 M284.6,700.5V710 M289.7,700.5V710 M293.9,700.5V710 M297.4,700.5V710 M300.4,700.5V710 M303.1,700.5V710 M305.5,700.5V710 M321.3,700.5V710 M330.5,700.5V710 M337.1,700.5V710 M342.2,700.5V710 M346.4,700.5V710 M349.9,700.5V710 M352.9,700.5V710 M355.6,700.5V710 M358,700.5V710 M373.8,700.5V710 M383,700.5V710 M389.6,700.5V710 M394.7,700.5V710 M398.9,700.5V710 M402.4,700.5V710 M405.4,700.5V710 M408.1,700.5V710 M410.5,700.5V710 M426.3,700.5V710 M435.5,700.5V710 M442.1,700.5V710 M447.2,700.5V710 M451.4,700.5V710 M454.9,700.5V710 M457.9,700.5V710 M460.6,700.5V710 M463,700.5V710 M473.5,700.5V710" stroke="#2222aa" stroke-width="3.3" fill="none"/>
<text x="136" y="729.5" font-size="11" fill="#1c1cb4" font-weight="bold" textLength="11" lengthAdjust="spacingAndGlyphs" stroke="#1c1cb4" stroke-width="0.9">10</text>
<text x="147" y="727.5" font-size="17" fill="#1c1cb4" font-weight="bold" textLength="9" lengthAdjust="spacingAndGlyphs" stroke="#1c1cb4" stroke-width="0.5">1</text>
<text x="188.5" y="729.5" font-size="11" fill="#1c1cb4" font-weight="bold" textLength="11" lengthAdjust="spacingAndGlyphs" stroke="#1c1cb4" stroke-width="0.9">10</text>
<text x="199.5" y="727.5" font-size="17" fill="#1c1cb4" font-weight="bold" textLength="9" lengthAdjust="spacingAndGlyphs" stroke="#1c1cb4" stroke-width="0.5">2</text>
<text x="241" y="729.5" font-size="11" fill="#1c1cb4" font-weight="bold" textLength="11" lengthAdjust="spacingAndGlyphs" stroke="#1c1cb4" stroke-width="0.9">10</text>
<text x="252" y="727.5" font-size="17" fill="#1c1cb4" font-weight="bold" textLength="9" lengthAdjust="spacingAndGlyphs" stroke="#1c1cb4" stroke-width="0.5">3</text>
<text x="293.5" y="729.5" font-size="11" fill="#1c1cb4" font-weight="bold" textLength="11" lengthAdjust="spacingAndGlyphs" stroke="#1c1cb4" stroke-width="0.9">10</text>
<text x="304.5" y="727.5" font-size="17" fill="#1c1cb4" font-weight="bold" textLength="9" lengthAdjust="spacingAndGlyphs" stroke="#1c1cb4" stroke-width="0.5">4</text>
<text x="346" y="729.5" font-size="11" fill="#1c1cb4" font-weight="bold" textLength="11" lengthAdjust="spacingAndGlyphs" stroke="#1c1cb4" stroke-width="0.9">10</text>
<text x="357" y="727.5" font-size="17" fill="#1c1cb4" font-weight="bold" textLength="9" lengthAdjust="spacingAndGlyphs" stroke="#1c1cb4" stroke-width="0.5">5</text>
<text x="398.5" y="729.5" font-size="11" fill="#1c1cb4" font-weight="bold" textLength="11" lengthAdjust="spacingAndGlyphs" stroke="#1c1cb4" stroke-width="0.9">10</text>
<text x="409.5" y="727.5" font-size="17" fill="#1c1cb4" font-weight="bold" textLength="9" lengthAdjust="spacingAndGlyphs" stroke="#1c1cb4" stroke-width="0.5">6</text>
<text x="461.5" y="729.5" font-size="11" fill="#1c1cb4" font-weight="bold" textLength="11" lengthAdjust="spacingAndGlyphs" stroke="#1c1cb4" stroke-width="0.9">10</text>
<text x="472.5" y="727.5" font-size="17" fill="#1c1cb4" font-weight="bold" textLength="21" lengthAdjust="spacingAndGlyphs" stroke="#1c1cb4" stroke-width="0.5">7.2</text>
<path d="M612.8,719 L612.8,716.1 L614.4,716.1 L614.4,714.8 L616,714.8 L616,713.4 L617.6,713.4 L617.6,711.8 L619.2,711.8 L619.2,712 L620.8,712 L620.8,713 L622.4,713 L622.4,714.3 L624,714.3 L624,715.7 L625.6,715.7 L625.6,715.4 L627.2,715.4 L627.2,714.5 L628.8,714.5 L628.8,713.9 L630.4,713.9 L630.4,713.2 L632,713.2 L632,712.6 L633.6,712.6 L633.6,712.2 L635.2,712.2 L635.2,711.9 L636.8,711.9 L636.8,711.7 L638.4,711.7 L638.4,711.4 L640,711.4 L640,711 L641.6,711 L641.6,709.9 L643.2,709.9 L643.2,708.3 L644.8,708.3 L644.8,707.1 L646.4,707.1 L646.4,706 L648,706 L648,705.4 L649.6,705.4 L649.6,704.5 L651.2,704.5 L651.2,704.2 L652.8,704.2 L652.8,703.1 L654.4,703.1 L654.4,702.6 L656,702.6 L656,702.3 L657.6,702.3 L657.6,702.2 L659.2,702.2 L659.2,701.5 L660.8,701.5 L660.8,700.3 L662.4,700.3 L662.4,698.7 L664,698.7 L664,697.7 L665.6,697.7 L665.6,696.5 L667.2,696.5 L667.2,694.7 L668.8,694.7 L668.8,691.8 L670.4,691.8 L670.4,690.8 L672,690.8 L672,687.3 L673.6,687.3 L673.6,685.8 L675.2,685.8 L675.2,682.1 L676.8,682.1 L676.8,676.2 L678.4,676.2 L678.4,673.5 L680,673.5 L680,666.7 L681.6,666.7 L681.6,659.5 L683.2,659.5 L683.2,650.9 L684.8,650.9 L684.8,648.4 L686.4,648.4 L686.4,646.1 L688,646.1 L688,645.7 L689.6,645.7 L689.6,636.5 L691.2,636.5 L691.2,627.4 L692.8,627.4 L692.8,617.8 L694.4,617.8 L694.4,608.3 L696,608.3 L696,598.8 L697.6,598.8 L697.6,590.9 L699.2,590.9 L699.2,586.8 L700.8,586.8 L700.8,580.3 L702.4,580.3 L702.4,576.9 L704,576.9 L704,569.8 L705.6,569.8 L705.6,554.8 L707.2,554.8 L707.2,542 L708.8,542 L708.8,526.1 L710.4,526.1 L710.4,516.5 L712,516.5 L712,510 L713.6,510 L713.6,511.2 L715.2,511.2 L715.2,512.2 L716.8,512.2 L716.8,520.1 L718.4,520.1 L718.4,528.4 L720,528.4 L720,528.6 L721.6,528.6 L721.6,528.1 L723.2,528.1 L723.2,529 L724.8,529 L724.8,526.8 L726.4,526.8 L726.4,534.1 L728,534.1 L728,547.8 L729.6,547.8 L729.6,562.2 L731.2,562.2 L731.2,580.3 L732.8,580.3 L732.8,586.3 L734.4,586.3 L734.4,592.6 L736,592.6 L736,597 L737.6,597 L737.6,610.8 L739.2,610.8 L739.2,628.7 L740.8,628.7 L740.8,630.8 L742.4,630.8 L742.4,630.5 L744,630.5 L744,659.6 L745.6,659.6 L745.6,663.6 L747.2,663.6 L747.2,667.2 L748.8,667.2 L748.8,669.8 L750.4,669.8 L750.4,672.1 L752,672.1 L752,676.1 L753.6,676.1 L753.6,677 L755.2,677 L755.2,680.7 L756.8,680.7 L756.8,681.4 L758.4,681.4 L758.4,684 L760,684 L760,687.3 L761.6,687.3 L761.6,689.5 L763.2,689.5 L763.2,692.7 L764.8,692.7 L764.8,696.3 L766.4,696.3 L766.4,696.5 L768,696.5 L768,696.4 L769.6,696.4 L769.6,696.2 L771.2,696.2 L771.2,696.6 L772.8,696.6 L772.8,697.1 L774.4,697.1 L774.4,698.7 L776,698.7 L776,701.1 L777.6,701.1 L777.6,700.6 L779.2,700.6 L779.2,698.2 L780.8,698.2 L780.8,694.6 L782.4,694.6 L782.4,691.1 L784,691.1 L784,684.5 L785.6,684.5 L785.6,677.2 L787.2,677.2 L787.2,675.8 L788.8,675.8 L788.8,677.5 L790.4,677.5 L790.4,675.1 L792,675.1 L792,675.5 L793.6,675.5 L793.6,667.9 L795.2,667.9 L795.2,658.9 L796.8,658.9 L796.8,655.5 L798.4,655.5 L798.4,660.8 L800,660.8 L800,668.7 L801.6,668.7 L801.6,668.1 L803.2,668.1 L803.2,664.9 L804.8,664.9 L804.8,663.3 L806.4,663.3 L806.4,662.1 L808,662.1 L808,664.2 L809.6,664.2 L809.6,668 L811.2,668 L811.2,671.9 L812.8,671.9 L812.8,678.2 L814.4,678.2 L814.4,682.1 L816,682.1 L816,686.1 L817.6,686.1 L817.6,691.6 L819.2,691.6 L819.2,695.9 L820.8,695.9 L820.8,699.4 L822.4,699.4 L822.4,700.8 L824,700.8 L824,702.5 L825.6,702.5 L825.6,704 L827.2,704 L827.2,705.9 L828.8,705.9 L828.8,707.2 L830.4,707.2 L830.4,708.2 L832,708.2 L832,709.2 L833.6,709.2 L833.6,710.4 L835.2,710.4 L835.2,711.5 L836.8,711.5 L836.8,712.4 L838.4,712.4 L838.4,712.9 L840,712.9 L840,713.2 L841.6,713.2 L841.6,713.5 L843.2,713.5 L843.2,713.7 L844.8,713.7 L844.8,713.9 L846.4,713.9 L846.4,714.1 L848,714.1 L848,714.5 L849.6,714.5 L849.6,715 L851.2,715 L851.2,715.2 L852.8,715.2 L852.8,715.7 L854.4,715.7 L854.4,716.1 L856,716.1 L856,716.5 L857.6,716.5 L857.6,716.8 L859.2,716.8 L859.2,717.2 L860.1,717.2 L860.1,719 Z" fill="#000"/>
<rect x="612" y="411.7" width="366.5" height="307.3" fill="none" stroke="#2222aa" stroke-width="3.3"/>
<line x1="600" y1="411.7" x2="612" y2="411.7" stroke="#2222aa" stroke-width="3.2"/>
<text transform="translate(590.8,411.7) rotate(-90)" x="0" y="0" font-size="21.5" font-weight="bold" fill="#1c1cb4" stroke="#1c1cb4" stroke-width="0.6" text-anchor="middle" textLength="26" lengthAdjust="spacingAndGlyphs">50C</text>
<line x1="600" y1="473.2" x2="612" y2="473.2" stroke="#2222aa" stroke-width="3.2"/>
<text transform="translate(590.8,473.2) rotate(-90)" x="0" y="0" font-size="21.5" font-weight="bold" fill="#1c1cb4" stroke="#1c1cb4" stroke-width="0.6" text-anchor="middle" textLength="26" lengthAdjust="spacingAndGlyphs">400</text>
<line x1="600" y1="596.1" x2="612" y2="596.1" stroke="#2222aa" stroke-width="3.2"/>
<text transform="translate(590.8,596.1) rotate(-90)" x="0" y="0" font-size="21.5" font-weight="bold" fill="#1c1cb4" stroke="#1c1cb4" stroke-width="0.6" text-anchor="middle" textLength="26" lengthAdjust="spacingAndGlyphs">200</text>
<line x1="600" y1="719" x2="612" y2="719" stroke="#2222aa" stroke-width="3.2"/>
<text transform="translate(590.8,719) rotate(-90)" x="0" y="0" font-size="21.5" font-weight="bold" fill="#1c1cb4" stroke="#1c1cb4" stroke-width="0.6" text-anchor="middle" textLength="8.5" lengthAdjust="spacingAndGlyphs">0</text>
<path d="M612,719V728.5 M629.8,719V728.5 M640.2,719V728.5 M647.6,719V728.5 M653.3,719V728.5 M658,719V728.5 M662,719V728.5 M665.4,719V728.5 M668.4,719V728.5 M671.1,719V728.5 M688.9,719V728.5 M699.3,719V728.5 M706.7,719V728.5 M712.4,719V728.5 M717.1,719V728.5 M721.1,719V728.5 M724.5,719V728.5 M727.5,719V728.5 M730.2,719V728.5 M748,719V728.5 M758.4,719V728.5 M765.8,719V728.5 M771.5,719V728.5 M776.2,719V728.5 M780.2,719V728.5 M783.6,719V728.5 M786.6,719V728.5 M789.3,719V728.5 M807.1,719V728.5 M817.5,719V728.5 M824.9,719V728.5 M830.7,719V728.5 M835.3,719V728.5 M839.3,719V728.5 M842.7,719V728.5 M845.7,719V728.5 M848.5,719V728.5 M866.2,719V728.5 M876.7,719V728.5 M884,719V728.5 M889.8,719V728.5 M894.5,719V728.5 M898.4,719V728.5 M901.8,719V728.5 M904.9,719V728.5 M907.6,719V728.5 M925.4,719V728.5 M935.8,719V728.5 M943.2,719V728.5 M948.9,719V728.5 M953.6,719V728.5 M957.5,719V728.5 M960.9,719V728.5 M964,719V728.5 M966.7,719V728.5 M978.5,719V728.5" stroke="#2222aa" stroke-width="3.3" fill="none"/>
<text x="600" y="748" font-size="11" fill="#1c1cb4" font-weight="bold" textLength="11" lengthAdjust="spacingAndGlyphs" stroke="#1c1cb4" stroke-width="0.9">10</text>
<text x="611" y="746" font-size="17" fill="#1c1cb4" font-weight="bold" textLength="9" lengthAdjust="spacingAndGlyphs" stroke="#1c1cb4" stroke-width="0.5">1</text>
<text x="659.1" y="748" font-size="11" fill="#1c1cb4" font-weight="bold" textLength="11" lengthAdjust="spacingAndGlyphs" stroke="#1c1cb4" stroke-width="0.9">10</text>
<text x="670.1" y="746" font-size="17" fill="#1c1cb4" font-weight="bold" textLength="9" lengthAdjust="spacingAndGlyphs" stroke="#1c1cb4" stroke-width="0.5">2</text>
<text x="718.2" y="748" font-size="11" fill="#1c1cb4" font-weight="bold" textLength="11" lengthAdjust="spacingAndGlyphs" stroke="#1c1cb4" stroke-width="0.9">10</text>
<text x="729.2" y="746" font-size="17" fill="#1c1cb4" font-weight="bold" textLength="9" lengthAdjust="spacingAndGlyphs" stroke="#1c1cb4" stroke-width="0.5">3</text>
<text x="777.3" y="748" font-size="11" fill="#1c1cb4" font-weight="bold" textLength="11" lengthAdjust="spacingAndGlyphs" stroke="#1c1cb4" stroke-width="0.9">10</text>
<text x="788.3" y="746" font-size="17" fill="#1c1cb4" font-weight="bold" textLength="9" lengthAdjust="spacingAndGlyphs" stroke="#1c1cb4" stroke-width="0.5">4</text>
<text x="836.5" y="748" font-size="11" fill="#1c1cb4" font-weight="bold" textLength="11" lengthAdjust="spacingAndGlyphs" stroke="#1c1cb4" stroke-width="0.9">10</text>
<text x="847.5" y="746" font-size="17" fill="#1c1cb4" font-weight="bold" textLength="9" lengthAdjust="spacingAndGlyphs" stroke="#1c1cb4" stroke-width="0.5">5</text>
<text x="895.6" y="748" font-size="11" fill="#1c1cb4" font-weight="bold" textLength="11" lengthAdjust="spacingAndGlyphs" stroke="#1c1cb4" stroke-width="0.9">10</text>
<text x="906.6" y="746" font-size="17" fill="#1c1cb4" font-weight="bold" textLength="9" lengthAdjust="spacingAndGlyphs" stroke="#1c1cb4" stroke-width="0.5">6</text>
<text x="966.5" y="748" font-size="11" fill="#1c1cb4" font-weight="bold" textLength="11" lengthAdjust="spacingAndGlyphs" stroke="#1c1cb4" stroke-width="0.9">10</text>
<text x="977.5" y="746" font-size="17" fill="#1c1cb4" font-weight="bold" textLength="21" lengthAdjust="spacingAndGlyphs" stroke="#1c1cb4" stroke-width="0.5">7.2</text>
<path d="M1118.7,704 L1118.7,701.4 L1120.3,701.4 L1120.3,701.3 L1121.9,701.3 L1121.9,701.1 L1123.5,701.1 L1123.5,701 L1125.1,701 L1125.1,700.9 L1126.7,700.9 L1126.7,700.7 L1128.3,700.7 L1128.3,700.4 L1129.9,700.4 L1129.9,700.2 L1131.5,700.2 L1131.5,700.2 L1133.1,700.2 L1133.1,700.1 L1134.7,700.1 L1134.7,699.8 L1136.3,699.8 L1136.3,699.4 L1137.9,699.4 L1137.9,698.3 L1139.5,698.3 L1139.5,697.4 L1141.1,697.4 L1141.1,696.7 L1142.7,696.7 L1142.7,695.7 L1144.3,695.7 L1144.3,694.8 L1145.9,694.8 L1145.9,694.1 L1147.5,694.1 L1147.5,693.2 L1149.1,693.2 L1149.1,692.6 L1150.7,692.6 L1150.7,692.2 L1152.3,692.2 L1152.3,692 L1153.9,692 L1153.9,691.6 L1155.5,691.6 L1155.5,691 L1157.1,691 L1157.1,689.9 L1158.7,689.9 L1158.7,688.8 L1160.3,688.8 L1160.3,688 L1161.9,688 L1161.9,686.7 L1163.5,686.7 L1163.5,682.8 L1165.1,682.8 L1165.1,678.1 L1166.7,678.1 L1166.7,676.5 L1168.3,676.5 L1168.3,673.6 L1169.9,673.6 L1169.9,672.8 L1171.5,672.8 L1171.5,670.3 L1173.1,670.3 L1173.1,667.6 L1174.7,667.6 L1174.7,666.6 L1176.3,666.6 L1176.3,666.4 L1177.9,666.4 L1177.9,666.7 L1179.5,666.7 L1179.5,662.7 L1181.1,662.7 L1181.1,653.4 L1182.7,653.4 L1182.7,646.1 L1184.3,646.1 L1184.3,644.6 L1185.9,644.6 L1185.9,642.2 L1187.5,642.2 L1187.5,638.7 L1189.1,638.7 L1189.1,634 L1190.7,634 L1190.7,630.4 L1192.3,630.4 L1192.3,624.3 L1193.9,624.3 L1193.9,616.3 L1195.5,616.3 L1195.5,599.3 L1197.1,599.3 L1197.1,597.9 L1198.7,597.9 L1198.7,594.6 L1200.3,594.6 L1200.3,585.9 L1201.9,585.9 L1201.9,571.3 L1203.5,571.3 L1203.5,559.4 L1205.1,559.4 L1205.1,554.6 L1206.7,554.6 L1206.7,551.5 L1208.3,551.5 L1208.3,547.7 L1209.9,547.7 L1209.9,543.6 L1211.5,543.6 L1211.5,539.9 L1213.1,539.9 L1213.1,540.2 L1214.7,540.2 L1214.7,539.8 L1216.3,539.8 L1216.3,528.6 L1217.9,528.6 L1217.9,514.3 L1219.5,514.3 L1219.5,514.3 L1221.1,514.3 L1221.1,514.1 L1222.7,514.1 L1222.7,526.6 L1224.3,526.6 L1224.3,550.4 L1225.9,550.4 L1225.9,556 L1227.5,556 L1227.5,562.8 L1229.1,562.8 L1229.1,574.2 L1230.7,574.2 L1230.7,591.8 L1232.3,591.8 L1232.3,609.2 L1233.9,609.2 L1233.9,609.6 L1235.5,609.6 L1235.5,609.5 L1237.1,609.5 L1237.1,609.3 L1238.7,609.3 L1238.7,634.5 L1240.3,634.5 L1240.3,645.3 L1241.9,645.3 L1241.9,654.1 L1243.5,654.1 L1243.5,660.3 L1245.1,660.3 L1245.1,668.7 L1246.7,668.7 L1246.7,677.7 L1248.3,677.7 L1248.3,677 L1249.9,677 L1249.9,678 L1251.5,678 L1251.5,677.3 L1253.1,677.3 L1253.1,676.8 L1254.7,676.8 L1254.7,678.5 L1256.3,678.5 L1256.3,680.4 L1257.9,680.4 L1257.9,682.3 L1259.5,682.3 L1259.5,684 L1261.1,684 L1261.1,684.1 L1262.7,684.1 L1262.7,685.5 L1264.3,685.5 L1264.3,686.4 L1265.9,686.4 L1265.9,688.1 L1267.5,688.1 L1267.5,688.3 L1269.1,688.3 L1269.1,689.2 L1270.7,689.2 L1270.7,690.2 L1272.3,690.2 L1272.3,691.4 L1273.9,691.4 L1273.9,692.2 L1275.5,692.2 L1275.5,691.9 L1277.1,691.9 L1277.1,691.5 L1278.7,691.5 L1278.7,691.3 L1280.3,691.3 L1280.3,691 L1281.9,691 L1281.9,690.1 L1283.5,690.1 L1283.5,689.3 L1285.1,689.3 L1285.1,689.3 L1286.7,689.3 L1286.7,688.5 L1288.3,688.5 L1288.3,687.2 L1289.9,687.2 L1289.9,687.2 L1291.5,687.2 L1291.5,682.4 L1293.1,682.4 L1293.1,674.1 L1294.7,674.1 L1294.7,665.6 L1296.3,665.6 L1296.3,658.4 L1297.9,658.4 L1297.9,652.3 L1299.5,652.3 L1299.5,647.2 L1301.1,647.2 L1301.1,644.2 L1302.7,644.2 L1302.7,644.1 L1304.3,644.1 L1304.3,640.5 L1305.9,640.5 L1305.9,640.7 L1307.5,640.7 L1307.5,635.2 L1309.1,635.2 L1309.1,632.2 L1310.7,632.2 L1310.7,633.4 L1312.3,633.4 L1312.3,635.9 L1313.9,635.9 L1313.9,637.5 L1315.5,637.5 L1315.5,639.1 L1317.1,639.1 L1317.1,643.7 L1318.7,643.7 L1318.7,649.3 L1320.3,649.3 L1320.3,656.5 L1321.9,656.5 L1321.9,660.6 L1323.5,660.6 L1323.5,664.7 L1325.1,664.7 L1325.1,669 L1326.7,669 L1326.7,670.4 L1328.3,670.4 L1328.3,674.4 L1329.9,674.4 L1329.9,678 L1331.5,678 L1331.5,679.5 L1333.1,679.5 L1333.1,680.1 L1334.7,680.1 L1334.7,681.7 L1336.3,681.7 L1336.3,683.4 L1337.9,683.4 L1337.9,686.1 L1339.5,686.1 L1339.5,686.9 L1341.1,686.9 L1341.1,688.6 L1342.7,688.6 L1342.7,690 L1344.3,690 L1344.3,690.8 L1345.9,690.8 L1345.9,692 L1347.5,692 L1347.5,693.8 L1349.1,693.8 L1349.1,694.6 L1350.7,694.6 L1350.7,695.4 L1352.3,695.4 L1352.3,696.6 L1353.9,696.6 L1353.9,697.4 L1355.5,697.4 L1355.5,698.3 L1357.1,698.3 L1357.1,699.2 L1358.7,699.2 L1358.7,700 L1360.3,700 L1360.3,700.5 L1361.9,700.5 L1361.9,700.8 L1363.5,700.8 L1363.5,701.3 L1365.1,701.3 L1365.1,704 Z" fill="#000"/>
<rect x="1118" y="397.3" width="350.3" height="306.7" fill="none" stroke="#2222aa" stroke-width="3.3"/>
<line x1="1106" y1="397.3" x2="1118" y2="397.3" stroke="#2222aa" stroke-width="3.2"/>
<text transform="translate(1096.8,397.3) rotate(-90)" x="0" y="0" font-size="21.5" font-weight="bold" fill="#1c1cb4" stroke="#1c1cb4" stroke-width="0.6" text-anchor="middle" textLength="26" lengthAdjust="spacingAndGlyphs">500</text>
<line x1="1106" y1="458.6" x2="1118" y2="458.6" stroke="#2222aa" stroke-width="3.2"/>
<text transform="translate(1096.8,458.6) rotate(-90)" x="0" y="0" font-size="21.5" font-weight="bold" fill="#1c1cb4" stroke="#1c1cb4" stroke-width="0.6" text-anchor="middle" textLength="26" lengthAdjust="spacingAndGlyphs">400</text>
<line x1="1106" y1="581.3" x2="1118" y2="581.3" stroke="#2222aa" stroke-width="3.2"/>
<text transform="translate(1096.8,581.3) rotate(-90)" x="0" y="0" font-size="21.5" font-weight="bold" fill="#1c1cb4" stroke="#1c1cb4" stroke-width="0.6" text-anchor="middle" textLength="26" lengthAdjust="spacingAndGlyphs">200</text>
<line x1="1106" y1="704" x2="1118" y2="704" stroke="#2222aa" stroke-width="3.2"/>
<text transform="translate(1096.8,704) rotate(-90)" x="0" y="0" font-size="21.5" font-weight="bold" fill="#1c1cb4" stroke="#1c1cb4" stroke-width="0.6" text-anchor="middle" textLength="8.5" lengthAdjust="spacingAndGlyphs">0</text>
<path d="M1118,704V713.5 M1135,704V713.5 M1145,704V713.5 M1152,704V713.5 M1157.5,704V713.5 M1162,704V713.5 M1165.7,704V713.5 M1169,704V713.5 M1171.9,704V713.5 M1174.5,704V713.5 M1191.5,704V713.5 M1201.5,704V713.5 M1208.5,704V713.5 M1214,704V713.5 M1218.5,704V713.5 M1222.2,704V713.5 M1225.5,704V713.5 M1228.4,704V713.5 M1231,704V713.5 M1248,704V713.5 M1258,704V713.5 M1265,704V713.5 M1270.5,704V713.5 M1275,704V713.5 M1278.7,704V713.5 M1282,704V713.5 M1284.9,704V713.5 M1287.5,704V713.5 M1304.5,704V713.5 M1314.5,704V713.5 M1321.5,704V713.5 M1327,704V713.5 M1331.5,704V713.5 M1335.2,704V713.5 M1338.5,704V713.5 M1341.4,704V713.5 M1344,704V713.5 M1361,704V713.5 M1371,704V713.5 M1378,704V713.5 M1383.5,704V713.5 M1388,704V713.5 M1391.7,704V713.5 M1395,704V713.5 M1397.9,704V713.5 M1400.5,704V713.5 M1417.5,704V713.5 M1427.5,704V713.5 M1434.5,704V713.5 M1440,704V713.5 M1444.5,704V713.5 M1448.2,704V713.5 M1451.5,704V713.5 M1454.4,704V713.5 M1457,704V713.5 M1468.3,704V713.5" stroke="#2222aa" stroke-width="3.3" fill="none"/>
<text x="1106" y="733" font-size="11" fill="#1c1cb4" font-weight="bold" textLength="11" lengthAdjust="spacingAndGlyphs" stroke="#1c1cb4" stroke-width="0.9">10</text>
<text x="1117" y="731" font-size="17" fill="#1c1cb4" font-weight="bold" textLength="9" lengthAdjust="spacingAndGlyphs" stroke="#1c1cb4" stroke-width="0.5">1</text>
<text x="1162.5" y="733" font-size="11" fill="#1c1cb4" font-weight="bold" textLength="11" lengthAdjust="spacingAndGlyphs" stroke="#1c1cb4" stroke-width="0.9">10</text>
<text x="1173.5" y="731" font-size="17" fill="#1c1cb4" font-weight="bold" textLength="9" lengthAdjust="spacingAndGlyphs" stroke="#1c1cb4" stroke-width="0.5">2</text>
<text x="1219" y="733" font-size="11" fill="#1c1cb4" font-weight="bold" textLength="11" lengthAdjust="spacingAndGlyphs" stroke="#1c1cb4" stroke-width="0.9">10</text>
<text x="1230" y="731" font-size="17" fill="#1c1cb4" font-weight="bold" textLength="9" lengthAdjust="spacingAndGlyphs" stroke="#1c1cb4" stroke-width="0.5">3</text>
<text x="1275.5" y="733" font-size="11" fill="#1c1cb4" font-weight="bold" textLength="11" lengthAdjust="spacingAndGlyphs" stroke="#1c1cb4" stroke-width="0.9">10</text>
<text x="1286.5" y="731" font-size="17" fill="#1c1cb4" font-weight="bold" textLength="9" lengthAdjust="spacingAndGlyphs" stroke="#1c1cb4" stroke-width="0.5">4</text>
<text x="1332" y="733" font-size="11" fill="#1c1cb4" font-weight="bold" textLength="11" lengthAdjust="spacingAndGlyphs" stroke="#1c1cb4" stroke-width="0.9">10</text>
<text x="1343" y="731" font-size="17" fill="#1c1cb4" font-weight="bold" textLength="9" lengthAdjust="spacingAndGlyphs" stroke="#1c1cb4" stroke-width="0.5">5</text>
<text x="1388.5" y="733" font-size="11" fill="#1c1cb4" font-weight="bold" textLength="11" lengthAdjust="spacingAndGlyphs" stroke="#1c1cb4" stroke-width="0.9">10</text>
<text x="1399.5" y="731" font-size="17" fill="#1c1cb4" font-weight="bold" textLength="9" lengthAdjust="spacingAndGlyphs" stroke="#1c1cb4" stroke-width="0.5">6</text>
<text x="1456.3" y="733" font-size="11" fill="#1c1cb4" font-weight="bold" textLength="11" lengthAdjust="spacingAndGlyphs" stroke="#1c1cb4" stroke-width="0.9">10</text>
<text x="1467.3" y="731" font-size="17" fill="#1c1cb4" font-weight="bold" textLength="21" lengthAdjust="spacingAndGlyphs" stroke="#1c1cb4" stroke-width="0.5">7.2</text>
<path d="M279,1081.3 L279,1080.9 L280.6,1080.9 L280.6,1080.7 L282.2,1080.7 L282.2,1080.6 L283.8,1080.6 L283.8,1080.5 L285.4,1080.5 L285.4,1080.4 L287,1080.4 L287,1080.3 L288.6,1080.3 L288.6,1080.1 L290.2,1080.1 L290.2,1080 L291.8,1080 L291.8,1079.9 L293.4,1079.9 L293.4,1079.8 L295,1079.8 L295,1079.6 L296.6,1079.6 L296.6,1079.6 L298.2,1079.6 L298.2,1079.4 L299.8,1079.4 L299.8,1079.3 L301.4,1079.3 L301.4,1079.2 L303,1079.2 L303,1079 L304.6,1079 L304.6,1078.8 L306.2,1078.8 L306.2,1078.6 L307.8,1078.6 L307.8,1078.3 L309.4,1078.3 L309.4,1078.2 L311,1078.2 L311,1077.8 L312.6,1077.8 L312.6,1077.6 L314.2,1077.6 L314.2,1077.4 L315.8,1077.4 L315.8,1077.1 L317.4,1077.1 L317.4,1076.8 L319,1076.8 L319,1076.5 L320.6,1076.5 L320.6,1076.4 L322.2,1076.4 L322.2,1076.1 L323.8,1076.1 L323.8,1075.9 L325.4,1075.9 L325.4,1074.8 L327,1074.8 L327,1073.7 L328.6,1073.7 L328.6,1072.2 L330.2,1072.2 L330.2,1071 L331.8,1071 L331.8,1069.8 L333.4,1069.8 L333.4,1069 L335,1069 L335,1069.2 L336.6,1069.2 L336.6,1069.3 L338.2,1069.3 L338.2,1069.5 L339.8,1069.5 L339.8,1069.9 L341.4,1069.9 L341.4,1070.4 L343,1070.4 L343,1070.7 L344.6,1070.7 L344.6,1068.5 L346.2,1068.5 L346.2,1065 L347.8,1065 L347.8,1062.2 L349.4,1062.2 L349.4,1061.6 L351,1061.6 L351,1062.4 L352.6,1062.4 L352.6,1061.8 L354.2,1061.8 L354.2,1062.1 L355.8,1062.1 L355.8,1054.3 L357.4,1054.3 L357.4,1046.5 L359,1046.5 L359,1042.8 L360.6,1042.8 L360.6,1040.3 L362.2,1040.3 L362.2,1037.7 L363.8,1037.7 L363.8,1034.4 L365.4,1034.4 L365.4,1032.9 L367,1032.9 L367,1029 L368.6,1029 L368.6,1024 L370.2,1024 L370.2,1019.4 L371.8,1019.4 L371.8,1015.8 L373.4,1015.8 L373.4,1009 L375,1009 L375,1002.8 L376.6,1002.8 L376.6,995.5 L378.2,995.5 L378.2,980 L379.8,980 L379.8,978.2 L381.4,978.2 L381.4,978.5 L383,978.5 L383,980.3 L384.6,980.3 L384.6,971.6 L386.2,971.6 L386.2,960.4 L387.8,960.4 L387.8,949.9 L389.4,949.9 L389.4,943.4 L391,943.4 L391,939.6 L392.6,939.6 L392.6,938.1 L394.2,938.1 L394.2,938.3 L395.8,938.3 L395.8,961.7 L397.4,961.7 L397.4,963.2 L399,963.2 L399,963 L400.6,963 L400.6,967.1 L402.2,967.1 L402.2,981.8 L403.8,981.8 L403.8,988.3 L405.4,988.3 L405.4,994.4 L407,994.4 L407,999.5 L408.6,999.5 L408.6,1003.7 L410.2,1003.7 L410.2,1005.9 L411.8,1005.9 L411.8,1013.4 L413.4,1013.4 L413.4,1020.7 L415,1020.7 L415,1029.3 L416.6,1029.3 L416.6,1035.1 L418.2,1035.1 L418.2,1034.1 L419.8,1034.1 L419.8,1033.7 L421.4,1033.7 L421.4,1033.4 L423,1033.4 L423,1034.2 L424.6,1034.2 L424.6,1035.6 L426.2,1035.6 L426.2,1035.8 L427.8,1035.8 L427.8,1028.4 L429.4,1028.4 L429.4,1019.6 L431,1019.6 L431,1010.8 L432.6,1010.8 L432.6,999.4 L434.2,999.4 L434.2,984.7 L435.8,984.7 L435.8,968.5 L437.4,968.5 L437.4,950.7 L439,950.7 L439,926.1 L440.6,926.1 L440.6,907 L442.2,907 L442.2,891 L443.8,891 L443.8,886.9 L445.4,886.9 L445.4,884.1 L447,884.1 L447,882.3 L448.6,882.3 L448.6,888.2 L450.2,888.2 L450.2,906.6 L451.8,906.6 L451.8,919.1 L453.4,919.1 L453.4,933.8 L455,933.8 L455,949.5 L456.6,949.5 L456.6,968.5 L458.2,968.5 L458.2,991.9 L459.8,991.9 L459.8,996.7 L461.4,996.7 L461.4,1003.8 L463,1003.8 L463,1009.2 L464.6,1009.2 L464.6,1014.9 L466.2,1014.9 L466.2,1021 L467.8,1021 L467.8,1022.2 L469.4,1022.2 L469.4,1021.6 L471,1021.6 L471,1022.1 L472.6,1022.1 L472.6,1024.3 L474.2,1024.3 L474.2,1034.1 L475.8,1034.1 L475.8,1042.3 L477.4,1042.3 L477.4,1047 L479,1047 L479,1048.9 L480.6,1048.9 L480.6,1052.4 L482.2,1052.4 L482.2,1054.4 L483.8,1054.4 L483.8,1058.4 L485.4,1058.4 L485.4,1061.6 L487,1061.6 L487,1065 L488.6,1065 L488.6,1068.7 L490.2,1068.7 L490.2,1071.2 L491.8,1071.2 L491.8,1072.9 L493.4,1072.9 L493.4,1074.6 L495,1074.6 L495,1075.9 L496.6,1075.9 L496.6,1076.3 L498.2,1076.3 L498.2,1076.4 L499.8,1076.4 L499.8,1076.7 L501.4,1076.7 L501.4,1076.9 L503,1076.9 L503,1077.1 L504.6,1077.1 L504.6,1077.4 L506.2,1077.4 L506.2,1077.8 L507.8,1077.8 L507.8,1077.8 L509.4,1077.8 L509.4,1078.2 L511,1078.2 L511,1078.5 L512.6,1078.5 L512.6,1078.7 L514.2,1078.7 L514.2,1078.8 L515.8,1078.8 L515.8,1079 L517.4,1079 L517.4,1079.1 L519,1079.1 L519,1079.2 L520.6,1079.2 L520.6,1079.1 L522.2,1079.1 L522.2,1079.1 L523.8,1079.1 L523.8,1079.3 L525.4,1079.3 L525.4,1079.2 L527,1079.2 L527,1079.3 L528.6,1079.3 L528.6,1079.4 L530.2,1079.4 L530.2,1079.4 L531.8,1079.4 L531.8,1079.4 L533.4,1079.4 L533.4,1079.5 L535,1079.5 L535,1079.5 L536.6,1079.5 L536.6,1079.5 L538.2,1079.5 L538.2,1079.6 L539.8,1079.6 L539.8,1079.7 L541.4,1079.7 L541.4,1079.6 L543,1079.6 L543,1079.7 L544.6,1079.7 L544.6,1079.7 L546.2,1079.7 L546.2,1079.8 L547.8,1079.8 L547.8,1079.8 L549.4,1079.8 L549.4,1079.8 L551,1079.8 L551,1079.9 L552.6,1079.9 L552.6,1080 L554.2,1080 L554.2,1080 L555,1080 L555,1081.3 Z" fill="#000"/>
<rect x="278.5" y="775.3" width="344.5" height="306" fill="none" stroke="#2222aa" stroke-width="3.3"/>
<line x1="266.5" y1="775.3" x2="278.5" y2="775.3" stroke="#2222aa" stroke-width="3.2"/>
<text transform="translate(257.3,775.3) rotate(-90)" x="0" y="0" font-size="21.5" font-weight="bold" fill="#1c1cb4" stroke="#1c1cb4" stroke-width="0.6" text-anchor="middle" textLength="26" lengthAdjust="spacingAndGlyphs">500</text>
<line x1="266.5" y1="836.5" x2="278.5" y2="836.5" stroke="#2222aa" stroke-width="3.2"/>
<text transform="translate(257.3,836.5) rotate(-90)" x="0" y="0" font-size="21.5" font-weight="bold" fill="#1c1cb4" stroke="#1c1cb4" stroke-width="0.6" text-anchor="middle" textLength="26" lengthAdjust="spacingAndGlyphs">400</text>
<line x1="266.5" y1="958.9" x2="278.5" y2="958.9" stroke="#2222aa" stroke-width="3.2"/>
<text transform="translate(257.3,958.9) rotate(-90)" x="0" y="0" font-size="21.5" font-weight="bold" fill="#1c1cb4" stroke="#1c1cb4" stroke-width="0.6" text-anchor="middle" textLength="26" lengthAdjust="spacingAndGlyphs">200</text>
<line x1="266.5" y1="1081.3" x2="278.5" y2="1081.3" stroke="#2222aa" stroke-width="3.2"/>
<text transform="translate(257.3,1081.3) rotate(-90)" x="0" y="0" font-size="21.5" font-weight="bold" fill="#1c1cb4" stroke="#1c1cb4" stroke-width="0.6" text-anchor="middle" textLength="8.5" lengthAdjust="spacingAndGlyphs">0</text>
<path d="M278.5,1081.3V1090.8 M295.2,1081.3V1090.8 M305,1081.3V1090.8 M312,1081.3V1090.8 M317.3,1081.3V1090.8 M321.7,1081.3V1090.8 M325.5,1081.3V1090.8 M328.7,1081.3V1090.8 M331.5,1081.3V1090.8 M334.1,1081.3V1090.8 M350.8,1081.3V1090.8 M360.6,1081.3V1090.8 M367.5,1081.3V1090.8 M372.9,1081.3V1090.8 M377.3,1081.3V1090.8 M381,1081.3V1090.8 M384.2,1081.3V1090.8 M387.1,1081.3V1090.8 M389.6,1081.3V1090.8 M406.4,1081.3V1090.8 M416.1,1081.3V1090.8 M423.1,1081.3V1090.8 M428.5,1081.3V1090.8 M432.9,1081.3V1090.8 M436.6,1081.3V1090.8 M439.8,1081.3V1090.8 M442.7,1081.3V1090.8 M445.2,1081.3V1090.8 M461.9,1081.3V1090.8 M471.7,1081.3V1090.8 M478.6,1081.3V1090.8 M484,1081.3V1090.8 M488.4,1081.3V1090.8 M492.2,1081.3V1090.8 M495.4,1081.3V1090.8 M498.2,1081.3V1090.8 M500.8,1081.3V1090.8 M517.5,1081.3V1090.8 M527.3,1081.3V1090.8 M534.2,1081.3V1090.8 M539.6,1081.3V1090.8 M544,1081.3V1090.8 M547.7,1081.3V1090.8 M550.9,1081.3V1090.8 M553.8,1081.3V1090.8 M556.3,1081.3V1090.8 M573,1081.3V1090.8 M582.8,1081.3V1090.8 M589.8,1081.3V1090.8 M595.2,1081.3V1090.8 M599.6,1081.3V1090.8 M603.3,1081.3V1090.8 M606.5,1081.3V1090.8 M609.3,1081.3V1090.8 M611.9,1081.3V1090.8 M623,1081.3V1090.8" stroke="#2222aa" stroke-width="3.3" fill="none"/>
<text x="266.5" y="1110.3" font-size="11" fill="#1c1cb4" font-weight="bold" textLength="11" lengthAdjust="spacingAndGlyphs" stroke="#1c1cb4" stroke-width="0.9">10</text>
<text x="277.5" y="1108.3" font-size="17" fill="#1c1cb4" font-weight="bold" textLength="9" lengthAdjust="spacingAndGlyphs" stroke="#1c1cb4" stroke-width="0.5">1</text>
<text x="322.1" y="1110.3" font-size="11" fill="#1c1cb4" font-weight="bold" textLength="11" lengthAdjust="spacingAndGlyphs" stroke="#1c1cb4" stroke-width="0.9">10</text>
<text x="333.1" y="1108.3" font-size="17" fill="#1c1cb4" font-weight="bold" textLength="9" lengthAdjust="spacingAndGlyphs" stroke="#1c1cb4" stroke-width="0.5">2</text>
<text x="377.6" y="1110.3" font-size="11" fill="#1c1cb4" font-weight="bold" textLength="11" lengthAdjust="spacingAndGlyphs" stroke="#1c1cb4" stroke-width="0.9">10</text>
<text x="388.6" y="1108.3" font-size="17" fill="#1c1cb4" font-weight="bold" textLength="9" lengthAdjust="spacingAndGlyphs" stroke="#1c1cb4" stroke-width="0.5">3</text>
<text x="433.2" y="1110.3" font-size="11" fill="#1c1cb4" font-weight="bold" textLength="11" lengthAdjust="spacingAndGlyphs" stroke="#1c1cb4" stroke-width="0.9">10</text>
<text x="444.2" y="1108.3" font-size="17" fill="#1c1cb4" font-weight="bold" textLength="9" lengthAdjust="spacingAndGlyphs" stroke="#1c1cb4" stroke-width="0.5">4</text>
<text x="488.8" y="1110.3" font-size="11" fill="#1c1cb4" font-weight="bold" textLength="11" lengthAdjust="spacingAndGlyphs" stroke="#1c1cb4" stroke-width="0.9">10</text>
<text x="499.8" y="1108.3" font-size="17" fill="#1c1cb4" font-weight="bold" textLength="9" lengthAdjust="spacingAndGlyphs" stroke="#1c1cb4" stroke-width="0.5">5</text>
<text x="544.3" y="1110.3" font-size="11" fill="#1c1cb4" font-weight="bold" textLength="11" lengthAdjust="spacingAndGlyphs" stroke="#1c1cb4" stroke-width="0.9">10</text>
<text x="555.3" y="1108.3" font-size="17" fill="#1c1cb4" font-weight="bold" textLength="9" lengthAdjust="spacingAndGlyphs" stroke="#1c1cb4" stroke-width="0.5">6</text>
<text x="611" y="1110.3" font-size="11" fill="#1c1cb4" font-weight="bold" textLength="11" lengthAdjust="spacingAndGlyphs" stroke="#1c1cb4" stroke-width="0.9">10</text>
<text x="622" y="1108.3" font-size="17" fill="#1c1cb4" font-weight="bold" textLength="21" lengthAdjust="spacingAndGlyphs" stroke="#1c1cb4" stroke-width="0.5">7.2</text>
<path d="M839.8,1083.3 L839.8,1082.9 L841.4,1082.9 L841.4,1082.9 L843,1082.9 L843,1082.9 L844.6,1082.9 L844.6,1082.8 L846.2,1082.8 L846.2,1082.8 L847.8,1082.8 L847.8,1082.7 L849.4,1082.7 L849.4,1082.6 L851,1082.6 L851,1082.6 L852.6,1082.6 L852.6,1082.5 L854.2,1082.5 L854.2,1082.5 L855.8,1082.5 L855.8,1082.4 L857.4,1082.4 L857.4,1082.4 L859,1082.4 L859,1082.3 L860.6,1082.3 L860.6,1082.3 L862.2,1082.3 L862.2,1082.2 L863.8,1082.2 L863.8,1082.2 L865.4,1082.2 L865.4,1082.1 L867,1082.1 L867,1082.1 L868.6,1082.1 L868.6,1082 L870.2,1082 L870.2,1081.8 L871.8,1081.8 L871.8,1081.6 L873.4,1081.6 L873.4,1081.3 L875,1081.3 L875,1080.9 L876.6,1080.9 L876.6,1080.6 L878.2,1080.6 L878.2,1080.3 L879.8,1080.3 L879.8,1080 L881.4,1080 L881.4,1079.7 L883,1079.7 L883,1079.4 L884.6,1079.4 L884.6,1079 L886.2,1079 L886.2,1078.8 L887.8,1078.8 L887.8,1078.6 L889.4,1078.6 L889.4,1077.9 L891,1077.9 L891,1077.2 L892.6,1077.2 L892.6,1076.2 L894.2,1076.2 L894.2,1075.7 L895.8,1075.7 L895.8,1074.9 L897.4,1074.9 L897.4,1074 L899,1074 L899,1072.9 L900.6,1072.9 L900.6,1072.4 L902.2,1072.4 L902.2,1071.5 L903.8,1071.5 L903.8,1071.1 L905.4,1071.1 L905.4,1069.7 L907,1069.7 L907,1070.3 L908.6,1070.3 L908.6,1070.4 L910.2,1070.4 L910.2,1070.2 L911.8,1070.2 L911.8,1070.3 L913.4,1070.3 L913.4,1069.1 L915,1069.1 L915,1068.6 L916.6,1068.6 L916.6,1067 L918.2,1067 L918.2,1066.5 L919.8,1066.5 L919.8,1065.7 L921.4,1065.7 L921.4,1064 L923,1064 L923,1063.9 L924.6,1063.9 L924.6,1063.3 L926.2,1063.3 L926.2,1061.4 L927.8,1061.4 L927.8,1060.8 L929.4,1060.8 L929.4,1060.2 L931,1060.2 L931,1058.1 L932.6,1058.1 L932.6,1058.6 L934.2,1058.6 L934.2,1058.1 L935.8,1058.1 L935.8,1059.7 L937.4,1059.7 L937.4,1059.5 L939,1059.5 L939,1061.1 L940.6,1061.1 L940.6,1062.9 L942.2,1062.9 L942.2,1063.4 L943.8,1063.4 L943.8,1064.8 L945.4,1064.8 L945.4,1066.4 L947,1066.4 L947,1069 L948.6,1069 L948.6,1071.7 L950.2,1071.7 L950.2,1074.6 L951.8,1074.6 L951.8,1075.2 L953.4,1075.2 L953.4,1076.2 L955,1076.2 L955,1076.7 L956.6,1076.7 L956.6,1077.3 L958.2,1077.3 L958.2,1077.7 L959.8,1077.7 L959.8,1078.5 L961.4,1078.5 L961.4,1078.5 L963,1078.5 L963,1078.8 L964.6,1078.8 L964.6,1079 L966.2,1079 L966.2,1079.2 L967.8,1079.2 L967.8,1079.5 L969.4,1079.5 L969.4,1079.6 L971,1079.6 L971,1079.8 L972.6,1079.8 L972.6,1080.1 L974.2,1080.1 L974.2,1080.1 L975.8,1080.1 L975.8,1080.5 L977.4,1080.5 L977.4,1080.6 L979,1080.6 L979,1080.4 L980.6,1080.4 L980.6,1080.2 L982.2,1080.2 L982.2,1079.7 L983.8,1079.7 L983.8,1079.5 L985.4,1079.5 L985.4,1079.1 L987,1079.1 L987,1078.7 L988.6,1078.7 L988.6,1078.5 L990.2,1078.5 L990.2,1078 L991.8,1078 L991.8,1077.6 L993.4,1077.6 L993.4,1077.5 L995,1077.5 L995,1075.9 L996.6,1075.9 L996.6,1074.2 L998.2,1074.2 L998.2,1071.7 L999.8,1071.7 L999.8,1069.8 L1001.4,1069.8 L1001.4,1068.1 L1003,1068.1 L1003,1058.1 L1004.6,1058.1 L1004.6,1048.7 L1006.2,1048.7 L1006.2,1035.2 L1007.8,1035.2 L1007.8,1020.5 L1009.4,1020.5 L1009.4,1004.1 L1011,1004.1 L1011,985.2 L1012.6,985.2 L1012.6,952.7 L1014.2,952.7 L1014.2,929 L1015.8,929 L1015.8,916.4 L1017.4,916.4 L1017.4,890.1 L1019,890.1 L1019,869.4 L1020.6,869.4 L1020.6,858.9 L1022.2,858.9 L1022.2,850 L1023.8,850 L1023.8,840.5 L1025.4,840.5 L1025.4,838.4 L1027,838.4 L1027,856.1 L1028.6,856.1 L1028.6,873.1 L1030.2,873.1 L1030.2,876.9 L1031.8,876.9 L1031.8,897.7 L1033.4,897.7 L1033.4,924.2 L1035,924.2 L1035,945 L1036.6,945 L1036.6,960.5 L1038.2,960.5 L1038.2,976.4 L1039.8,976.4 L1039.8,988.9 L1041.4,988.9 L1041.4,998.7 L1043,998.7 L1043,1008.6 L1044.6,1008.6 L1044.6,1007 L1046.2,1007 L1046.2,1006.8 L1047.8,1006.8 L1047.8,1025.8 L1049.4,1025.8 L1049.4,1038.6 L1051,1038.6 L1051,1042.9 L1052.6,1042.9 L1052.6,1046.4 L1054.2,1046.4 L1054.2,1049.3 L1055.8,1049.3 L1055.8,1052.8 L1057.4,1052.8 L1057.4,1055.1 L1059,1055.1 L1059,1058.7 L1060.6,1058.7 L1060.6,1061.3 L1062.2,1061.3 L1062.2,1063.7 L1063.8,1063.7 L1063.8,1066 L1065.4,1066 L1065.4,1067.1 L1067,1067.1 L1067,1068.8 L1068.6,1068.8 L1068.6,1069.9 L1070.2,1069.9 L1070.2,1070.8 L1071.8,1070.8 L1071.8,1072.5 L1073.4,1072.5 L1073.4,1073.3 L1075,1073.3 L1075,1074.8 L1076.6,1074.8 L1076.6,1075.4 L1078.2,1075.4 L1078.2,1076 L1079.8,1076 L1079.8,1076.5 L1081.4,1076.5 L1081.4,1077.5 L1083,1077.5 L1083,1077.8 L1084.6,1077.8 L1084.6,1078.7 L1086.2,1078.7 L1086.2,1079.4 L1087.8,1079.4 L1087.8,1079.5 L1089.4,1079.5 L1089.4,1079.6 L1091,1079.6 L1091,1079.8 L1092.6,1079.8 L1092.6,1079.8 L1094.2,1079.8 L1094.2,1079.9 L1095.8,1079.9 L1095.8,1080 L1097.4,1080 L1097.4,1079.9 L1099,1079.9 L1099,1080 L1100.6,1080 L1100.6,1080 L1102.2,1080 L1102.2,1080 L1103.8,1080 L1103.8,1080.2 L1105.4,1080.2 L1105.4,1080.3 L1107,1080.3 L1107,1080.3 L1108.6,1080.3 L1108.6,1080.2 L1110.2,1080.2 L1110.2,1080.4 L1111.8,1080.4 L1111.8,1080.5 L1113.4,1080.5 L1113.4,1080.5 L1115,1080.5 L1115,1080.6 L1116.6,1080.6 L1116.6,1080.6 L1118.2,1080.6 L1118.2,1080.6 L1119.8,1080.6 L1119.8,1080.6 L1121.4,1080.6 L1121.4,1080.7 L1123,1080.7 L1123,1080.7 L1124.6,1080.7 L1124.6,1080.8 L1126.2,1080.8 L1126.2,1080.9 L1127.8,1080.9 L1127.8,1080.9 L1129.4,1080.9 L1129.4,1081 L1131,1081 L1131,1081 L1132.6,1081 L1132.6,1081 L1134.2,1081 L1134.2,1081 L1135.8,1081 L1135.8,1081 L1137.4,1081 L1137.4,1081.1 L1139,1081.1 L1139,1081.1 L1140.6,1081.1 L1140.6,1081.1 L1142.2,1081.1 L1142.2,1081.2 L1143.8,1081.2 L1143.8,1081.3 L1145.4,1081.3 L1145.4,1081.2 L1147,1081.2 L1147,1081.3 L1148.6,1081.3 L1148.6,1081.3 L1150.2,1081.3 L1150.2,1081.3 L1151.8,1081.3 L1151.8,1081.3 L1153.4,1081.3 L1153.4,1081.4 L1155,1081.4 L1155,1081.5 L1156.6,1081.5 L1156.6,1081.5 L1158.2,1081.5 L1158.2,1081.5 L1159.8,1081.5 L1159.8,1081.6 L1161.4,1081.6 L1161.4,1081.6 L1163,1081.6 L1163,1081.6 L1164.6,1081.6 L1164.6,1081.7 L1166.2,1081.7 L1166.2,1081.7 L1167.8,1081.7 L1167.8,1081.7 L1169.4,1081.7 L1169.4,1081.7 L1171,1081.7 L1171,1081.8 L1172.6,1081.8 L1172.6,1081.8 L1174.2,1081.8 L1174.2,1081.9 L1175.8,1081.9 L1175.8,1081.9 L1177.4,1081.9 L1177.4,1081.9 L1179,1081.9 L1179,1081.9 L1180.6,1081.9 L1180.6,1082 L1182.2,1082 L1182.2,1082 L1183,1082 L1183,1083.3 Z" fill="#000"/>
<rect x="836.7" y="794" width="351.6" height="289.3" fill="none" stroke="#2222aa" stroke-width="3.3"/>
<line x1="824.7" y1="794" x2="836.7" y2="794" stroke="#2222aa" stroke-width="3.2"/>
<text transform="translate(815.5,794) rotate(-90)" x="0" y="0" font-size="21.5" font-weight="bold" fill="#1c1cb4" stroke="#1c1cb4" stroke-width="0.6" text-anchor="middle" textLength="17.5" lengthAdjust="spacingAndGlyphs">5C</text>
<line x1="824.7" y1="851.9" x2="836.7" y2="851.9" stroke="#2222aa" stroke-width="3.2"/>
<text transform="translate(815.5,851.9) rotate(-90)" x="0" y="0" font-size="21.5" font-weight="bold" fill="#1c1cb4" stroke="#1c1cb4" stroke-width="0.6" text-anchor="middle" textLength="26" lengthAdjust="spacingAndGlyphs">400</text>
<line x1="824.7" y1="967.6" x2="836.7" y2="967.6" stroke="#2222aa" stroke-width="3.2"/>
<text transform="translate(815.5,967.6) rotate(-90)" x="0" y="0" font-size="21.5" font-weight="bold" fill="#1c1cb4" stroke="#1c1cb4" stroke-width="0.6" text-anchor="middle" textLength="26" lengthAdjust="spacingAndGlyphs">200</text>
<line x1="824.7" y1="1083.3" x2="836.7" y2="1083.3" stroke="#2222aa" stroke-width="3.2"/>
<text transform="translate(815.5,1083.3) rotate(-90)" x="0" y="0" font-size="21.5" font-weight="bold" fill="#1c1cb4" stroke="#1c1cb4" stroke-width="0.6" text-anchor="middle" textLength="8.5" lengthAdjust="spacingAndGlyphs">0</text>
<path d="M836.7,1083.3V1092.8 M853.8,1083.3V1092.8 M863.8,1083.3V1092.8 M870.8,1083.3V1092.8 M876.3,1083.3V1092.8 M880.8,1083.3V1092.8 M884.6,1083.3V1092.8 M887.9,1083.3V1092.8 M890.8,1083.3V1092.8 M893.4,1083.3V1092.8 M910.5,1083.3V1092.8 M920.5,1083.3V1092.8 M927.6,1083.3V1092.8 M933,1083.3V1092.8 M937.5,1083.3V1092.8 M941.3,1083.3V1092.8 M944.6,1083.3V1092.8 M947.5,1083.3V1092.8 M950.1,1083.3V1092.8 M967.2,1083.3V1092.8 M977.2,1083.3V1092.8 M984.3,1083.3V1092.8 M989.8,1083.3V1092.8 M994.2,1083.3V1092.8 M998,1083.3V1092.8 M1001.3,1083.3V1092.8 M1004.2,1083.3V1092.8 M1006.8,1083.3V1092.8 M1023.9,1083.3V1092.8 M1033.9,1083.3V1092.8 M1041,1083.3V1092.8 M1046.5,1083.3V1092.8 M1051,1083.3V1092.8 M1054.8,1083.3V1092.8 M1058,1083.3V1092.8 M1060.9,1083.3V1092.8 M1063.5,1083.3V1092.8 M1080.6,1083.3V1092.8 M1090.6,1083.3V1092.8 M1097.7,1083.3V1092.8 M1103.2,1083.3V1092.8 M1107.7,1083.3V1092.8 M1111.5,1083.3V1092.8 M1114.8,1083.3V1092.8 M1117.7,1083.3V1092.8 M1120.2,1083.3V1092.8 M1137.3,1083.3V1092.8 M1147.3,1083.3V1092.8 M1154.4,1083.3V1092.8 M1159.9,1083.3V1092.8 M1164.4,1083.3V1092.8 M1168.2,1083.3V1092.8 M1171.5,1083.3V1092.8 M1174.4,1083.3V1092.8 M1177,1083.3V1092.8 M1188.3,1083.3V1092.8" stroke="#2222aa" stroke-width="3.3" fill="none"/>
<text x="824.7" y="1112.3" font-size="11" fill="#1c1cb4" font-weight="bold" textLength="11" lengthAdjust="spacingAndGlyphs" stroke="#1c1cb4" stroke-width="0.9">10</text>
<text x="835.7" y="1110.3" font-size="17" fill="#1c1cb4" font-weight="bold" textLength="9" lengthAdjust="spacingAndGlyphs" stroke="#1c1cb4" stroke-width="0.5">1</text>
<text x="881.4" y="1112.3" font-size="11" fill="#1c1cb4" font-weight="bold" textLength="11" lengthAdjust="spacingAndGlyphs" stroke="#1c1cb4" stroke-width="0.9">10</text>
<text x="892.4" y="1110.3" font-size="17" fill="#1c1cb4" font-weight="bold" textLength="9" lengthAdjust="spacingAndGlyphs" stroke="#1c1cb4" stroke-width="0.5">2</text>
<text x="938.1" y="1112.3" font-size="11" fill="#1c1cb4" font-weight="bold" textLength="11" lengthAdjust="spacingAndGlyphs" stroke="#1c1cb4" stroke-width="0.9">10</text>
<text x="949.1" y="1110.3" font-size="17" fill="#1c1cb4" font-weight="bold" textLength="9" lengthAdjust="spacingAndGlyphs" stroke="#1c1cb4" stroke-width="0.5">3</text>
<text x="994.8" y="1112.3" font-size="11" fill="#1c1cb4" font-weight="bold" textLength="11" lengthAdjust="spacingAndGlyphs" stroke="#1c1cb4" stroke-width="0.9">10</text>
<text x="1005.8" y="1110.3" font-size="17" fill="#1c1cb4" font-weight="bold" textLength="9" lengthAdjust="spacingAndGlyphs" stroke="#1c1cb4" stroke-width="0.5">4</text>
<text x="1051.5" y="1112.3" font-size="11" fill="#1c1cb4" font-weight="bold" textLength="11" lengthAdjust="spacingAndGlyphs" stroke="#1c1cb4" stroke-width="0.9">10</text>
<text x="1062.5" y="1110.3" font-size="17" fill="#1c1cb4" font-weight="bold" textLength="9" lengthAdjust="spacingAndGlyphs" stroke="#1c1cb4" stroke-width="0.5">5</text>
<text x="1108.2" y="1112.3" font-size="11" fill="#1c1cb4" font-weight="bold" textLength="11" lengthAdjust="spacingAndGlyphs" stroke="#1c1cb4" stroke-width="0.9">10</text>
<text x="1119.2" y="1110.3" font-size="17" fill="#1c1cb4" font-weight="bold" textLength="9" lengthAdjust="spacingAndGlyphs" stroke="#1c1cb4" stroke-width="0.5">6</text>
<text x="1176.3" y="1112.3" font-size="11" fill="#1c1cb4" font-weight="bold" textLength="11" lengthAdjust="spacingAndGlyphs" stroke="#1c1cb4" stroke-width="0.9">10</text>
<text x="1187.3" y="1110.3" font-size="17" fill="#1c1cb4" font-weight="bold" textLength="21" lengthAdjust="spacingAndGlyphs" stroke="#1c1cb4" stroke-width="0.5">7.2</text>
<rect x="1185.5" y="1066" width="2.6" height="17" fill="#000"/>
<text x="338.8" y="76.5" font-size="25.5" fill="#000" font-weight="bold" textLength="133.9" lengthAdjust="spacingAndGlyphs">Input 0.0%</text>
<text x="379.1" y="261" font-size="25.5" fill="#000" font-weight="bold" textLength="89.3" lengthAdjust="spacingAndGlyphs">Output</text>
<text x="406.9" y="300.3" font-size="25.5" fill="#000" font-weight="bold" textLength="61.1" lengthAdjust="spacingAndGlyphs">2.9%</text>
<text x="799" y="75.4" font-size="25.5" fill="#000" font-weight="bold" textLength="150.4" lengthAdjust="spacingAndGlyphs">Input 0.01%</text>
<text x="860.9" y="276" font-size="25.5" fill="#000" font-weight="bold" textLength="89.7" lengthAdjust="spacingAndGlyphs">Output</text>
<text x="889.1" y="315.3" font-size="25.5" fill="#000" font-weight="bold" textLength="61.5" lengthAdjust="spacingAndGlyphs">6.2%</text>
<text x="1314.8" y="78.6" font-size="25.5" fill="#000" font-weight="bold" textLength="134.7" lengthAdjust="spacingAndGlyphs">Input 0.1%</text>
<text x="1355.2" y="271.2" font-size="25.5" fill="#000" font-weight="bold" textLength="89.2" lengthAdjust="spacingAndGlyphs">Output</text>
<text x="1368.8" y="310.8" font-size="25.5" fill="#000" font-weight="bold" textLength="76" lengthAdjust="spacingAndGlyphs">13.0%</text>
<text x="344.2" y="453.1" font-size="25.5" fill="#000" font-weight="bold" textLength="111.6" lengthAdjust="spacingAndGlyphs">Input 1%</text>
<text x="373.2" y="642" font-size="25.5" fill="#000" font-weight="bold" textLength="88.8" lengthAdjust="spacingAndGlyphs">Output</text>
<text x="386.4" y="682.4" font-size="25.5" fill="#000" font-weight="bold" textLength="76" lengthAdjust="spacingAndGlyphs">19.0%</text>
<text x="827.9" y="451" font-size="25.5" fill="#000" font-weight="bold" textLength="111.2" lengthAdjust="spacingAndGlyphs">Input 5%</text>
<text x="863.6" y="660.8" font-size="25.5" fill="#000" font-weight="bold" textLength="89.2" lengthAdjust="spacingAndGlyphs">Output</text>
<text x="876" y="700.4" font-size="25.5" fill="#000" font-weight="bold" textLength="77.2" lengthAdjust="spacingAndGlyphs">29.0%</text>
<text x="1324.3" y="444" font-size="25.5" fill="#000" font-weight="bold" textLength="126.4" lengthAdjust="spacingAndGlyphs">Input 10%</text>
<text x="1368.8" y="646.6" font-size="25.5" fill="#000" font-weight="bold" textLength="88.4" lengthAdjust="spacingAndGlyphs">Output</text>
<text x="1380.8" y="686.6" font-size="25.5" fill="#000" font-weight="bold" textLength="76.8" lengthAdjust="spacingAndGlyphs">35.0%</text>
<text x="488.1" y="809.3" font-size="25.5" fill="#000" font-weight="bold" textLength="126.1" lengthAdjust="spacingAndGlyphs">Input 50%</text>
<text x="523.6" y="1022.8" font-size="25.5" fill="#000" font-weight="bold" textLength="88" lengthAdjust="spacingAndGlyphs">Output</text>
<text x="535.6" y="1062.4" font-size="25.5" fill="#000" font-weight="bold" textLength="76.4" lengthAdjust="spacingAndGlyphs">54.0%</text>
<text x="1040" y="836.7" font-size="25.5" fill="#000" font-weight="bold" textLength="141.6" lengthAdjust="spacingAndGlyphs">Input 100%</text>
<text x="1084.4" y="1030.8" font-size="25.5" fill="#000" font-weight="bold" textLength="88.4" lengthAdjust="spacingAndGlyphs">Output</text>
<text x="1096.4" y="1070.4" font-size="25.5" fill="#000" font-weight="bold" textLength="76.4" lengthAdjust="spacingAndGlyphs">93.0%</text>
<text x="61.1" y="31" font-size="34" fill="#000" font-weight="bold" textLength="25.2" lengthAdjust="spacingAndGlyphs">A</text>
<text x="516.6" y="37.4" font-size="34" fill="#000" font-weight="bold" textLength="22.6" lengthAdjust="spacingAndGlyphs">B</text>
<text x="1020" y="69" font-size="34" fill="#000" font-weight="bold" textLength="22.4" lengthAdjust="spacingAndGlyphs">C</text>
<text x="66" y="444.8" font-size="34" fill="#000" font-weight="bold" textLength="25.2" lengthAdjust="spacingAndGlyphs">D</text>
<text x="524.4" y="427" font-size="34" fill="#000" font-weight="bold" textLength="19.2" lengthAdjust="spacingAndGlyphs">E</text>
<text x="1034.8" y="432.6" font-size="34" fill="#000" font-weight="bold" textLength="17.2" lengthAdjust="spacingAndGlyphs">F</text>
<text x="181.6" y="798" font-size="34" fill="#000" font-weight="bold" textLength="24.8" lengthAdjust="spacingAndGlyphs">G</text>
<text x="730.6" y="824.4" font-size="34" fill="#000" font-weight="bold" textLength="23.2" lengthAdjust="spacingAndGlyphs">H</text>
<path d="M42,1118.8 L1354,1118.8" stroke="#000" stroke-width="5.6" fill="none"/>
<path d="M44.8,1118.8 L42.2,13" stroke="#000" stroke-width="6" fill="none"/>
<path d="M32,31 L42,12 L52,31" stroke="#000" stroke-width="5.2" fill="none" stroke-linecap="round" stroke-linejoin="round"/>
<path d="M1337.5,1108.8 L1356,1118.8 L1337.5,1128.8" stroke="#000" stroke-width="5.2" fill="none" stroke-linecap="round" stroke-linejoin="round"/>
<path d="M41.3,1112 L41.3,1121.7 L50,1121.7" stroke="#000" stroke-width="1" fill="none"/>
<text transform="translate(27.9,564.8) rotate(-90)" x="0" y="0" font-size="33.5" font-weight="bold" textLength="89" lengthAdjust="spacingAndGlyphs">Count</text>
<text x="624.8" y="1171.5" font-size="34.5" fill="#000" font-weight="bold" textLength="89.5" lengthAdjust="spacingAndGlyphs">FL1-A</text>
<line x1="376.3" y1="1287" x2="376.3" y2="1916" stroke="#d2d2d2" stroke-width="2"/>
<line x1="375.5" y1="1916" x2="1332.6" y2="1916" stroke="#d2d2d2" stroke-width="2"/>
<text x="112" y="1280" font-size="36" fill="#000" font-weight="bold" textLength="11" lengthAdjust="spacingAndGlyphs">I</text>
<text x="328.9" y="1924.6" font-size="27.5" fill="#000" font-weight="bold" textLength="17.6" lengthAdjust="spacingAndGlyphs">0</text>
<text x="315.7" y="1820.1" font-size="27.5" fill="#000" font-weight="bold" textLength="30.8" lengthAdjust="spacingAndGlyphs">20</text>
<text x="315.7" y="1715.5" font-size="27.5" fill="#000" font-weight="bold" textLength="30.8" lengthAdjust="spacingAndGlyphs">40</text>
<text x="315.7" y="1611" font-size="27.5" fill="#000" font-weight="bold" textLength="30.8" lengthAdjust="spacingAndGlyphs">60</text>
<text x="315.7" y="1506.4" font-size="27.5" fill="#000" font-weight="bold" textLength="30.8" lengthAdjust="spacingAndGlyphs">80</text>
<text x="297" y="1401.9" font-size="27.5" fill="#000" font-weight="bold" textLength="49.5" lengthAdjust="spacingAndGlyphs">100</text>
<text x="297" y="1297.4" font-size="27.5" fill="#000" font-weight="bold" textLength="49.5" lengthAdjust="spacingAndGlyphs">120</text>
<text x="368.2" y="1966" font-size="25.5" fill="#000" font-weight="bold" textLength="16.4" lengthAdjust="spacingAndGlyphs">0</text>
<text x="513.6" y="1966" font-size="25.5" fill="#000" font-weight="bold" textLength="42.8" lengthAdjust="spacingAndGlyphs">0.2</text>
<text x="673.6" y="1966" font-size="25.5" fill="#000" font-weight="bold" textLength="42.8" lengthAdjust="spacingAndGlyphs">0.4</text>
<text x="833.6" y="1966" font-size="25.5" fill="#000" font-weight="bold" textLength="42.8" lengthAdjust="spacingAndGlyphs">0.6</text>
<text x="993.6" y="1966" font-size="25.5" fill="#000" font-weight="bold" textLength="42.8" lengthAdjust="spacingAndGlyphs">0.8</text>
<text x="1168" y="1966" font-size="25.5" fill="#000" font-weight="bold" textLength="14" lengthAdjust="spacingAndGlyphs">1</text>
<text x="1314.8" y="1966" font-size="25.5" fill="#000" font-weight="bold" textLength="40.4" lengthAdjust="spacingAndGlyphs">1.2</text>
<text x="1016" y="1307.8" font-size="29" fill="#000" font-weight="bold" textLength="18" lengthAdjust="spacingAndGlyphs">R</text>
<text x="1034.5" y="1296" font-size="17" fill="#000" font-weight="bold" textLength="10" lengthAdjust="spacingAndGlyphs">2</text>
<text x="1053.5" y="1307.8" font-size="29" fill="#000" font-weight="bold" textLength="16" lengthAdjust="spacingAndGlyphs">=</text>
<text x="1076.8" y="1307.8" font-size="29" fill="#000" font-weight="bold" textLength="97.6" lengthAdjust="spacingAndGlyphs">0.9229</text>
<text x="563.5" y="2049.5" font-size="37" fill="#000" font-weight="bold" textLength="426" lengthAdjust="spacingAndGlyphs">Positive Cells Input (%)</text>
<text transform="translate(250,1902) rotate(-90)" x="0" y="0" font-size="45" font-weight="bold" textLength="566" lengthAdjust="spacingAndGlyphs">Positive Cells Identified(%)</text>
<path d="M376.68,1837.0 L1161.5,1428.45" stroke="#000" stroke-width="5.6" stroke-linecap="round" stroke-dasharray="0 13.2" fill="none"/>
<path d="M385,1779.4 V1852.7 M377.5,1779.4 H392.5 M377.5,1852.7 H392.5" stroke="#000" stroke-width="3.4" fill="none"/>
<path d="M416.4,1732.3 V1795.7 M408.9,1732.3 H423.9 M408.9,1795.7 H423.9" stroke="#000" stroke-width="3.4" fill="none"/>
<path d="M455.3,1709 V1756.2 M447.8,1709 H462.8 M447.8,1756.2 H462.8" stroke="#000" stroke-width="3.4" fill="none"/>
<path d="M774.8,1607.2 V1660.8 M767.3,1607.2 H782.3 M767.3,1660.8 H782.3" stroke="#000" stroke-width="3.4" fill="none"/>
<path d="M1174,1403.2 V1454.7 M1166.5,1403.2 H1181.5 M1166.5,1454.7 H1181.5" stroke="#000" stroke-width="3.4" fill="none"/>
<path d="M377.5,1831 V1913" stroke="#000" stroke-width="3.4" fill="none"/>
<circle cx="376.3" cy="1899.8" r="9.3" fill="#000"/>
<circle cx="376.3" cy="1882.3" r="9.3" fill="#000"/>
<circle cx="377.4" cy="1847.4" r="9.3" fill="#000"/>
<circle cx="385" cy="1816" r="9.3" fill="#000"/>
<circle cx="416.4" cy="1763.1" r="9.3" fill="#000"/>
<circle cx="455.3" cy="1732.3" r="9.3" fill="#000"/>
<circle cx="774.8" cy="1633.6" r="9.3" fill="#000"/>
<circle cx="1174" cy="1428.7" r="9.3" fill="#000"/></svg></div>
</body></html>
